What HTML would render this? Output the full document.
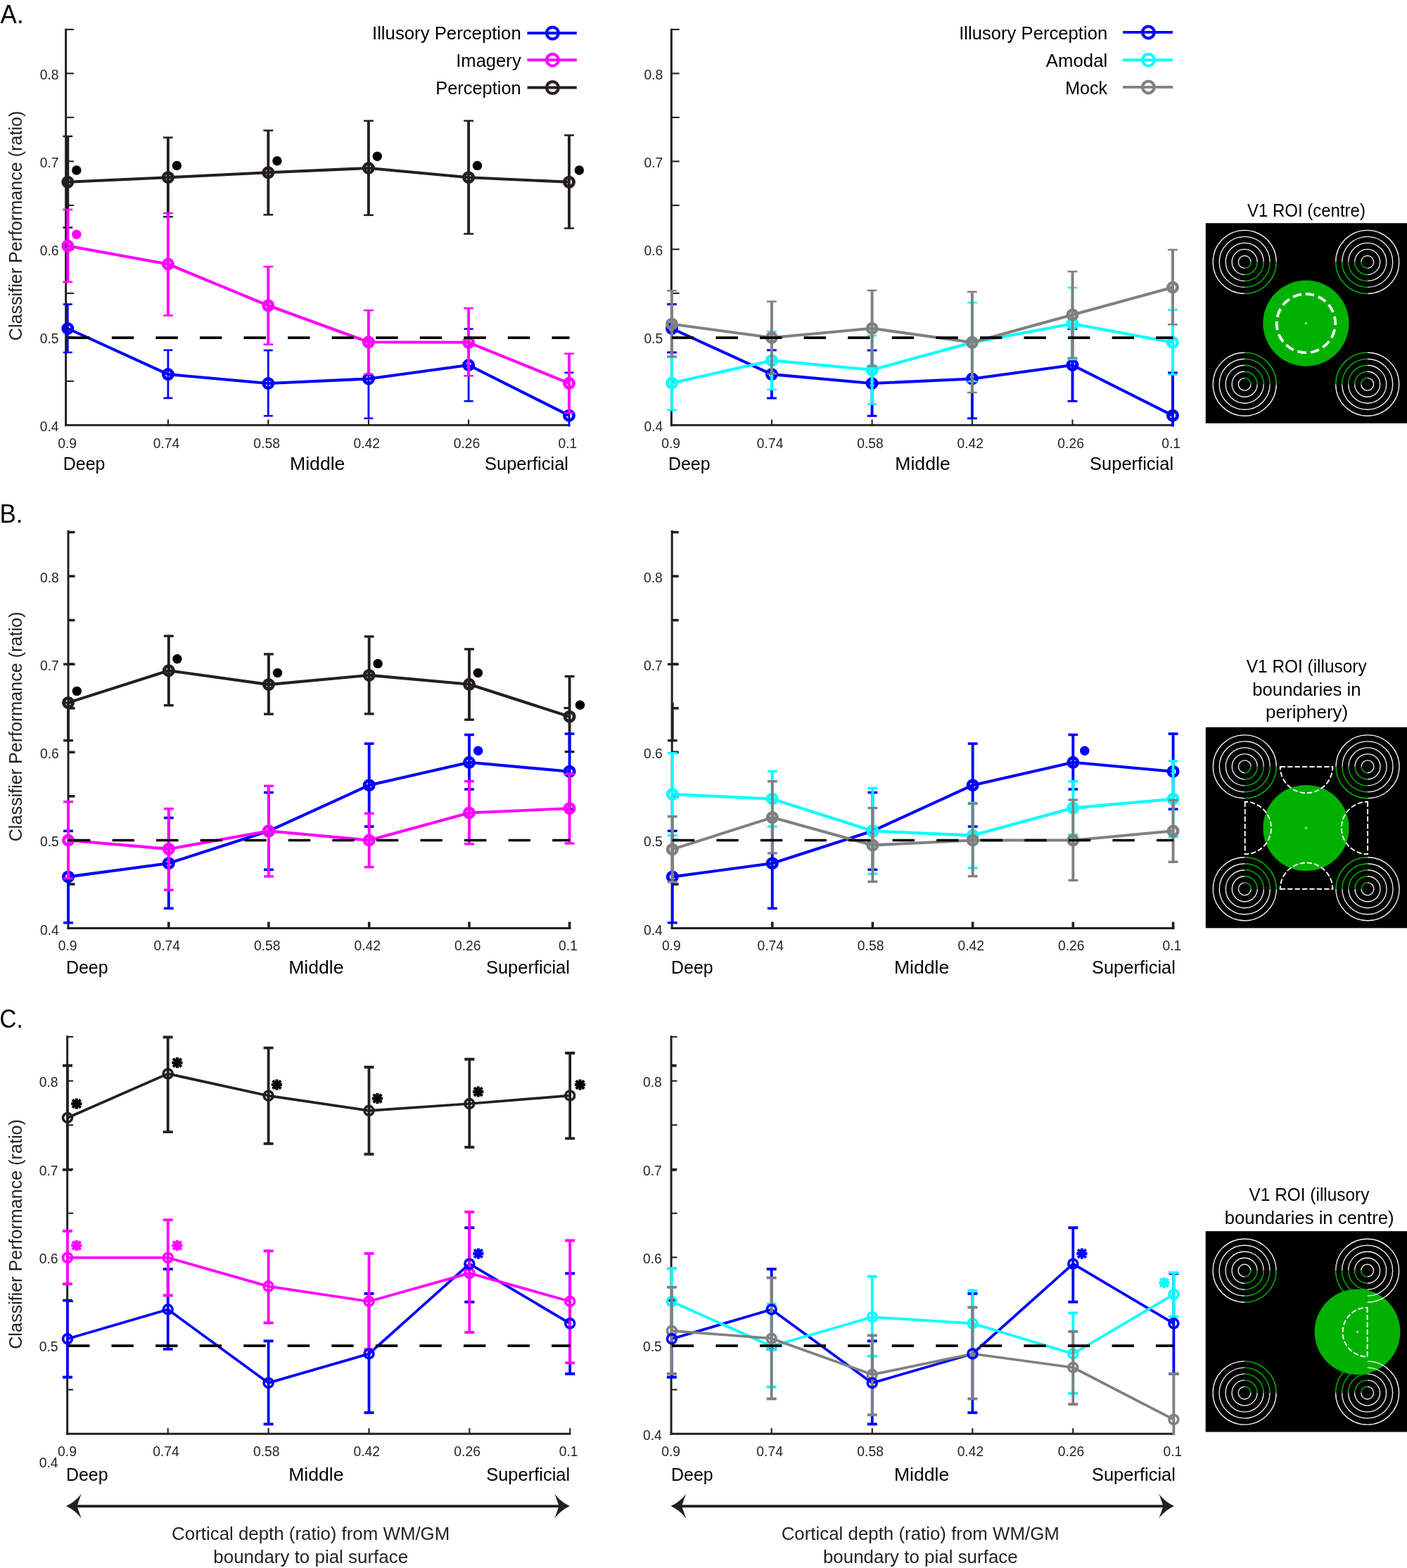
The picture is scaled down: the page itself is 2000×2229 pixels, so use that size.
<!DOCTYPE html>
<html lang="en"><head><meta charset="utf-8"><title>Figure</title>
<style>html,body{margin:0;padding:0;background:#fff;overflow:hidden}svg{display:block}text{font-family:'Liberation Sans', Arial, sans-serif}</style>
</head><body>
<svg width="2000" height="2229" viewBox="0 0 2000 2229">
<rect width="2000" height="2229" fill="#fff"/>
<!-- panel AL -->
<g id="panelAL">
<clipPath id="clipAL"><rect x="81.65" y="40.7" width="760" height="565.7"/></clipPath>
<line x1="93.65" y1="40.7" x2="93.65" y2="605.9" stroke="#231f20" stroke-width="3" />
<line x1="92.15" y1="604.4" x2="810.2" y2="604.4" stroke="#231f20" stroke-width="2.85" />
<line x1="93.65" y1="541.9" x2="104.95" y2="541.9" stroke="#231f20" stroke-width="2.1" />
<line x1="93.65" y1="479.4" x2="104.95" y2="479.4" stroke="#231f20" stroke-width="2.1" />
<line x1="93.65" y1="416.9" x2="104.95" y2="416.9" stroke="#231f20" stroke-width="2.1" />
<line x1="93.65" y1="354.4" x2="104.95" y2="354.4" stroke="#231f20" stroke-width="2.1" />
<line x1="93.65" y1="291.9" x2="104.95" y2="291.9" stroke="#231f20" stroke-width="2.1" />
<line x1="93.65" y1="229.4" x2="104.95" y2="229.4" stroke="#231f20" stroke-width="2.1" />
<line x1="93.65" y1="166.9" x2="104.95" y2="166.9" stroke="#231f20" stroke-width="2.1" />
<line x1="93.65" y1="104.4" x2="104.95" y2="104.4" stroke="#231f20" stroke-width="2.1" />
<line x1="93.65" y1="41.9" x2="104.95" y2="41.9" stroke="#231f20" stroke-width="2.1" />
<line x1="238.9" y1="604.4" x2="238.9" y2="596.4" stroke="#231f20" stroke-width="2.1" />
<line x1="381.3" y1="604.4" x2="381.3" y2="596.4" stroke="#231f20" stroke-width="2.1" />
<line x1="523.9" y1="604.4" x2="523.9" y2="596.4" stroke="#231f20" stroke-width="2.1" />
<line x1="666.1" y1="604.4" x2="666.1" y2="596.4" stroke="#231f20" stroke-width="2.1" />
<line x1="809" y1="604.4" x2="809" y2="596.4" stroke="#231f20" stroke-width="2.1" />
<g clip-path="url(#clipAL)">
<line x1="96.3" y1="193.7" x2="96.3" y2="323.6" stroke="#231f20" stroke-width="3.9" />
<line x1="89.4" y1="193.7" x2="103.2" y2="193.7" stroke="#231f20" stroke-width="2.5" />
<line x1="89.4" y1="323.6" x2="103.2" y2="323.6" stroke="#231f20" stroke-width="2.5" />
<line x1="238.9" y1="195.6" x2="238.9" y2="308.2" stroke="#231f20" stroke-width="3.9" />
<line x1="232" y1="195.6" x2="245.8" y2="195.6" stroke="#231f20" stroke-width="2.5" />
<line x1="232" y1="308.2" x2="245.8" y2="308.2" stroke="#231f20" stroke-width="2.5" />
<line x1="381.3" y1="185.6" x2="381.3" y2="305.3" stroke="#231f20" stroke-width="3.9" />
<line x1="374.4" y1="185.6" x2="388.2" y2="185.6" stroke="#231f20" stroke-width="2.5" />
<line x1="374.4" y1="305.3" x2="388.2" y2="305.3" stroke="#231f20" stroke-width="2.5" />
<line x1="523.9" y1="171.7" x2="523.9" y2="305.8" stroke="#231f20" stroke-width="3.9" />
<line x1="517" y1="171.7" x2="530.8" y2="171.7" stroke="#231f20" stroke-width="2.5" />
<line x1="517" y1="305.8" x2="530.8" y2="305.8" stroke="#231f20" stroke-width="2.5" />
<line x1="666.1" y1="171.7" x2="666.1" y2="332.4" stroke="#231f20" stroke-width="3.9" />
<line x1="659.2" y1="171.7" x2="673" y2="171.7" stroke="#231f20" stroke-width="2.5" />
<line x1="659.2" y1="332.4" x2="673" y2="332.4" stroke="#231f20" stroke-width="2.5" />
<line x1="809" y1="192.3" x2="809" y2="324.5" stroke="#231f20" stroke-width="3.9" />
<line x1="802.1" y1="192.3" x2="815.9" y2="192.3" stroke="#231f20" stroke-width="2.5" />
<line x1="802.1" y1="324.5" x2="815.9" y2="324.5" stroke="#231f20" stroke-width="2.5" />
<polyline points="96.3,258.8 238.9,252.2 381.3,245.3 523.9,239 666.1,252.2 809,258.8" fill="none" stroke="#231f20" stroke-width="4.1" stroke-linejoin="round"/>
<circle cx="96.3" cy="258.8" r="6.5" fill="none" stroke="#231f20" stroke-width="5"/>
<circle cx="238.9" cy="252.2" r="6.5" fill="none" stroke="#231f20" stroke-width="5"/>
<circle cx="381.3" cy="245.3" r="6.5" fill="none" stroke="#231f20" stroke-width="5"/>
<circle cx="523.9" cy="239" r="6.5" fill="none" stroke="#231f20" stroke-width="5"/>
<circle cx="666.1" cy="252.2" r="6.5" fill="none" stroke="#231f20" stroke-width="5"/>
<circle cx="809" cy="258.8" r="6.5" fill="none" stroke="#231f20" stroke-width="5"/>
<line x1="96.3" y1="432.6" x2="96.3" y2="501" stroke="#0000ff" stroke-width="2.8" />
<line x1="89.8" y1="432.6" x2="102.8" y2="432.6" stroke="#0000ff" stroke-width="2.6" />
<line x1="89.8" y1="501" x2="102.8" y2="501" stroke="#0000ff" stroke-width="2.6" />
<line x1="238.9" y1="497.8" x2="238.9" y2="565.9" stroke="#0000ff" stroke-width="2.8" />
<line x1="232.4" y1="497.8" x2="245.4" y2="497.8" stroke="#0000ff" stroke-width="2.6" />
<line x1="232.4" y1="565.9" x2="245.4" y2="565.9" stroke="#0000ff" stroke-width="2.6" />
<line x1="381.3" y1="498" x2="381.3" y2="591.2" stroke="#0000ff" stroke-width="2.8" />
<line x1="374.8" y1="498" x2="387.8" y2="498" stroke="#0000ff" stroke-width="2.6" />
<line x1="374.8" y1="591.2" x2="387.8" y2="591.2" stroke="#0000ff" stroke-width="2.6" />
<line x1="523.9" y1="482.2" x2="523.9" y2="594.8" stroke="#0000ff" stroke-width="2.8" />
<line x1="517.4" y1="482.2" x2="530.4" y2="482.2" stroke="#0000ff" stroke-width="2.6" />
<line x1="517.4" y1="594.8" x2="530.4" y2="594.8" stroke="#0000ff" stroke-width="2.6" />
<line x1="666.1" y1="467.6" x2="666.1" y2="570.3" stroke="#0000ff" stroke-width="2.8" />
<line x1="659.6" y1="467.6" x2="672.6" y2="467.6" stroke="#0000ff" stroke-width="2.6" />
<line x1="659.6" y1="570.3" x2="672.6" y2="570.3" stroke="#0000ff" stroke-width="2.6" />
<line x1="809" y1="529.7" x2="809" y2="640" stroke="#0000ff" stroke-width="2.8" />
<line x1="802.5" y1="529.7" x2="815.5" y2="529.7" stroke="#0000ff" stroke-width="2.6" />
<line x1="802.5" y1="640" x2="815.5" y2="640" stroke="#0000ff" stroke-width="2.6" />
<polyline points="96.3,467 238.9,532.1 381.3,545 523.9,538.5 666.1,519 809,590.7" fill="none" stroke="#0000ff" stroke-width="4.1" stroke-linejoin="round"/>
<circle cx="96.3" cy="467" r="6.5" fill="none" stroke="#0000ff" stroke-width="5"/>
<circle cx="238.9" cy="532.1" r="6.5" fill="none" stroke="#0000ff" stroke-width="5"/>
<circle cx="381.3" cy="545" r="6.5" fill="none" stroke="#0000ff" stroke-width="5"/>
<circle cx="523.9" cy="538.5" r="6.5" fill="none" stroke="#0000ff" stroke-width="5"/>
<circle cx="666.1" cy="519" r="6.5" fill="none" stroke="#0000ff" stroke-width="5"/>
<circle cx="809" cy="590.7" r="6.5" fill="none" stroke="#0000ff" stroke-width="5"/>
<line x1="96.3" y1="298" x2="96.3" y2="400.8" stroke="#ff00ff" stroke-width="3.9" />
<line x1="89.4" y1="298" x2="103.2" y2="298" stroke="#ff00ff" stroke-width="2.5" />
<line x1="89.4" y1="400.8" x2="103.2" y2="400.8" stroke="#ff00ff" stroke-width="2.5" />
<line x1="238.9" y1="303" x2="238.9" y2="448.4" stroke="#ff00ff" stroke-width="3.9" />
<line x1="232" y1="303" x2="245.8" y2="303" stroke="#ff00ff" stroke-width="2.5" />
<line x1="232" y1="448.4" x2="245.8" y2="448.4" stroke="#ff00ff" stroke-width="2.5" />
<line x1="381.3" y1="379.1" x2="381.3" y2="489.6" stroke="#ff00ff" stroke-width="3.9" />
<line x1="374.4" y1="379.1" x2="388.2" y2="379.1" stroke="#ff00ff" stroke-width="2.5" />
<line x1="374.4" y1="489.6" x2="388.2" y2="489.6" stroke="#ff00ff" stroke-width="2.5" />
<line x1="523.9" y1="441.2" x2="523.9" y2="532.1" stroke="#ff00ff" stroke-width="3.9" />
<line x1="517" y1="441.2" x2="530.8" y2="441.2" stroke="#ff00ff" stroke-width="2.5" />
<line x1="517" y1="532.1" x2="530.8" y2="532.1" stroke="#ff00ff" stroke-width="2.5" />
<line x1="666.1" y1="438.2" x2="666.1" y2="534.3" stroke="#ff00ff" stroke-width="3.9" />
<line x1="659.2" y1="438.2" x2="673" y2="438.2" stroke="#ff00ff" stroke-width="2.5" />
<line x1="659.2" y1="534.3" x2="673" y2="534.3" stroke="#ff00ff" stroke-width="2.5" />
<line x1="809" y1="502.7" x2="809" y2="587.1" stroke="#ff00ff" stroke-width="3.9" />
<line x1="802.1" y1="502.7" x2="815.9" y2="502.7" stroke="#ff00ff" stroke-width="2.5" />
<line x1="802.1" y1="587.1" x2="815.9" y2="587.1" stroke="#ff00ff" stroke-width="2.5" />
<polyline points="96.3,349.6 238.9,375.5 381.3,434.3 523.9,486.3 666.1,486.8 809,544.8" fill="none" stroke="#ff00ff" stroke-width="4.1" stroke-linejoin="round"/>
<circle cx="96.3" cy="349.6" r="6.5" fill="none" stroke="#ff00ff" stroke-width="5"/>
<circle cx="238.9" cy="375.5" r="6.5" fill="none" stroke="#ff00ff" stroke-width="5"/>
<circle cx="381.3" cy="434.3" r="6.5" fill="none" stroke="#ff00ff" stroke-width="5"/>
<circle cx="523.9" cy="486.3" r="6.5" fill="none" stroke="#ff00ff" stroke-width="5"/>
<circle cx="666.1" cy="486.8" r="6.5" fill="none" stroke="#ff00ff" stroke-width="5"/>
<circle cx="809" cy="544.8" r="6.5" fill="none" stroke="#ff00ff" stroke-width="5"/>
</g>
<line x1="96.3" y1="480.2" x2="809.5" y2="480.2" stroke="#000" stroke-width="3.7" stroke-dasharray="31.4 31.16"/>
<circle cx="108.8" cy="242" r="6.7" fill="#000"/>
<circle cx="251.4" cy="235.4" r="6.7" fill="#000"/>
<circle cx="393.9" cy="228.8" r="6.7" fill="#000"/>
<circle cx="536.3" cy="222.2" r="6.7" fill="#000"/>
<circle cx="678.5" cy="235.4" r="6.7" fill="#000"/>
<circle cx="823.4" cy="242" r="6.7" fill="#000"/>
<circle cx="108.8" cy="333.2" r="6.7" fill="#ff00ff"/>
<text x="83.6" y="613.2" font-size="19.3" fill="#231f20" text-anchor="end" >0.4</text>
<text x="83.6" y="488.2" font-size="19.3" fill="#231f20" text-anchor="end" >0.5</text>
<text x="83.6" y="363.2" font-size="19.3" fill="#231f20" text-anchor="end" >0.6</text>
<text x="83.6" y="238.2" font-size="19.3" fill="#231f20" text-anchor="end" >0.7</text>
<text x="83.6" y="113.2" font-size="19.3" fill="#231f20" text-anchor="end" >0.8</text>
<text x="95.7" y="636.5" font-size="19.3" fill="#231f20" text-anchor="middle" >0.9</text>
<text x="236.5" y="636.5" font-size="19.3" fill="#231f20" text-anchor="middle" >0.74</text>
<text x="379.1" y="636.5" font-size="19.3" fill="#231f20" text-anchor="middle" >0.58</text>
<text x="521.2" y="636.5" font-size="19.3" fill="#231f20" text-anchor="middle" >0.42</text>
<text x="663.5" y="636.5" font-size="19.3" fill="#231f20" text-anchor="middle" >0.26</text>
<text x="806.9" y="636.5" font-size="19.3" fill="#231f20" text-anchor="middle" >0.1</text>
<text x="89.8" y="668" font-size="25.6" fill="#000" textLength="59.6" lengthAdjust="spacingAndGlyphs" >Deep</text>
<text x="412" y="668" font-size="25.6" fill="#000" textLength="78.4" lengthAdjust="spacingAndGlyphs" >Middle</text>
<text x="808" y="668" font-size="25.6" fill="#000" text-anchor="end" textLength="119" lengthAdjust="spacingAndGlyphs" >Superficial</text>
</g>
<!-- panel AR -->
<g id="panelAR">
<clipPath id="clipAR"><rect x="942.4" y="40.7" width="760" height="565.7"/></clipPath>
<line x1="954.4" y1="40.7" x2="954.4" y2="605.9" stroke="#231f20" stroke-width="3" />
<line x1="952.9" y1="604.4" x2="1668.2" y2="604.4" stroke="#231f20" stroke-width="2.85" />
<line x1="954.4" y1="541.9" x2="965.7" y2="541.9" stroke="#231f20" stroke-width="2.1" />
<line x1="954.4" y1="479.4" x2="965.7" y2="479.4" stroke="#231f20" stroke-width="2.1" />
<line x1="954.4" y1="416.9" x2="965.7" y2="416.9" stroke="#231f20" stroke-width="2.1" />
<line x1="954.4" y1="354.4" x2="965.7" y2="354.4" stroke="#231f20" stroke-width="2.1" />
<line x1="954.4" y1="291.9" x2="965.7" y2="291.9" stroke="#231f20" stroke-width="2.1" />
<line x1="954.4" y1="229.4" x2="965.7" y2="229.4" stroke="#231f20" stroke-width="2.1" />
<line x1="954.4" y1="166.9" x2="965.7" y2="166.9" stroke="#231f20" stroke-width="2.1" />
<line x1="954.4" y1="104.4" x2="965.7" y2="104.4" stroke="#231f20" stroke-width="2.1" />
<line x1="954.4" y1="41.9" x2="965.7" y2="41.9" stroke="#231f20" stroke-width="2.1" />
<line x1="1097" y1="604.4" x2="1097" y2="596.4" stroke="#231f20" stroke-width="2.1" />
<line x1="1239.6" y1="604.4" x2="1239.6" y2="596.4" stroke="#231f20" stroke-width="2.1" />
<line x1="1381.9" y1="604.4" x2="1381.9" y2="596.4" stroke="#231f20" stroke-width="2.1" />
<line x1="1524.5" y1="604.4" x2="1524.5" y2="596.4" stroke="#231f20" stroke-width="2.1" />
<line x1="1667" y1="604.4" x2="1667" y2="596.4" stroke="#231f20" stroke-width="2.1" />
<g clip-path="url(#clipAR)">
<line x1="955" y1="432.6" x2="955" y2="501" stroke="#0000ff" stroke-width="3.9" />
<line x1="948.1" y1="432.6" x2="961.9" y2="432.6" stroke="#0000ff" stroke-width="3" />
<line x1="948.1" y1="501" x2="961.9" y2="501" stroke="#0000ff" stroke-width="3" />
<line x1="1097" y1="497.8" x2="1097" y2="565.9" stroke="#0000ff" stroke-width="3.9" />
<line x1="1090.1" y1="497.8" x2="1103.9" y2="497.8" stroke="#0000ff" stroke-width="3" />
<line x1="1090.1" y1="565.9" x2="1103.9" y2="565.9" stroke="#0000ff" stroke-width="3" />
<line x1="1239.6" y1="498" x2="1239.6" y2="591.2" stroke="#0000ff" stroke-width="3.9" />
<line x1="1232.7" y1="498" x2="1246.5" y2="498" stroke="#0000ff" stroke-width="3" />
<line x1="1232.7" y1="591.2" x2="1246.5" y2="591.2" stroke="#0000ff" stroke-width="3" />
<line x1="1381.9" y1="482.2" x2="1381.9" y2="594.8" stroke="#0000ff" stroke-width="3.9" />
<line x1="1375" y1="482.2" x2="1388.8" y2="482.2" stroke="#0000ff" stroke-width="3" />
<line x1="1375" y1="594.8" x2="1388.8" y2="594.8" stroke="#0000ff" stroke-width="3" />
<line x1="1524.5" y1="467.6" x2="1524.5" y2="570.3" stroke="#0000ff" stroke-width="3.9" />
<line x1="1517.6" y1="467.6" x2="1531.4" y2="467.6" stroke="#0000ff" stroke-width="3" />
<line x1="1517.6" y1="570.3" x2="1531.4" y2="570.3" stroke="#0000ff" stroke-width="3" />
<line x1="1667" y1="529.7" x2="1667" y2="640" stroke="#0000ff" stroke-width="3.9" />
<line x1="1660.1" y1="529.7" x2="1673.9" y2="529.7" stroke="#0000ff" stroke-width="3" />
<line x1="1660.1" y1="640" x2="1673.9" y2="640" stroke="#0000ff" stroke-width="3" />
<polyline points="955,467 1097,532.1 1239.6,545 1381.9,538.5 1524.5,519 1667,590.7" fill="none" stroke="#0000ff" stroke-width="4.1" stroke-linejoin="round"/>
<circle cx="955" cy="467" r="6.5" fill="none" stroke="#0000ff" stroke-width="5"/>
<circle cx="1097" cy="532.1" r="6.5" fill="none" stroke="#0000ff" stroke-width="5"/>
<circle cx="1239.6" cy="545" r="6.5" fill="none" stroke="#0000ff" stroke-width="5"/>
<circle cx="1381.9" cy="538.5" r="6.5" fill="none" stroke="#0000ff" stroke-width="5"/>
<circle cx="1524.5" cy="519" r="6.5" fill="none" stroke="#0000ff" stroke-width="5"/>
<circle cx="1667" cy="590.7" r="6.5" fill="none" stroke="#0000ff" stroke-width="5"/>
<line x1="955" y1="506" x2="955" y2="583" stroke="#00ffff" stroke-width="3.9" />
<line x1="948.1" y1="506" x2="961.9" y2="506" stroke="#00ffff" stroke-width="2.5" />
<line x1="948.1" y1="583" x2="961.9" y2="583" stroke="#00ffff" stroke-width="2.5" />
<line x1="1097" y1="471.2" x2="1097" y2="553.8" stroke="#00ffff" stroke-width="3.9" />
<line x1="1090.1" y1="471.2" x2="1103.9" y2="471.2" stroke="#00ffff" stroke-width="2.5" />
<line x1="1090.1" y1="553.8" x2="1103.9" y2="553.8" stroke="#00ffff" stroke-width="2.5" />
<line x1="1239.6" y1="477.2" x2="1239.6" y2="574.2" stroke="#00ffff" stroke-width="3.9" />
<line x1="1232.7" y1="477.2" x2="1246.5" y2="477.2" stroke="#00ffff" stroke-width="2.5" />
<line x1="1232.7" y1="574.2" x2="1246.5" y2="574.2" stroke="#00ffff" stroke-width="2.5" />
<line x1="1381.9" y1="430.2" x2="1381.9" y2="542.3" stroke="#00ffff" stroke-width="3.9" />
<line x1="1375" y1="430.2" x2="1388.8" y2="430.2" stroke="#00ffff" stroke-width="2.5" />
<line x1="1375" y1="542.3" x2="1388.8" y2="542.3" stroke="#00ffff" stroke-width="2.5" />
<line x1="1524.5" y1="409" x2="1524.5" y2="511" stroke="#00ffff" stroke-width="3.9" />
<line x1="1517.6" y1="409" x2="1531.4" y2="409" stroke="#00ffff" stroke-width="2.5" />
<line x1="1517.6" y1="511" x2="1531.4" y2="511" stroke="#00ffff" stroke-width="2.5" />
<line x1="1667" y1="440.4" x2="1667" y2="532.4" stroke="#00ffff" stroke-width="3.9" />
<line x1="1660.1" y1="440.4" x2="1673.9" y2="440.4" stroke="#00ffff" stroke-width="2.5" />
<line x1="1660.1" y1="532.4" x2="1673.9" y2="532.4" stroke="#00ffff" stroke-width="2.5" />
<polyline points="955,544.5 1097,512.4 1239.6,525.8 1381.9,486.8 1524.5,460.2 1667,486.8" fill="none" stroke="#00ffff" stroke-width="4.1" stroke-linejoin="round"/>
<circle cx="955" cy="544.5" r="6.5" fill="none" stroke="#00ffff" stroke-width="5"/>
<circle cx="1097" cy="512.4" r="6.5" fill="none" stroke="#00ffff" stroke-width="5"/>
<circle cx="1239.6" cy="525.8" r="6.5" fill="none" stroke="#00ffff" stroke-width="5"/>
<circle cx="1381.9" cy="486.8" r="6.5" fill="none" stroke="#00ffff" stroke-width="5"/>
<circle cx="1524.5" cy="460.2" r="6.5" fill="none" stroke="#00ffff" stroke-width="5"/>
<circle cx="1667" cy="486.8" r="6.5" fill="none" stroke="#00ffff" stroke-width="5"/>
<line x1="955" y1="413.2" x2="955" y2="507.4" stroke="#808080" stroke-width="3.9" />
<line x1="948.1" y1="413.2" x2="961.9" y2="413.2" stroke="#808080" stroke-width="2.5" />
<line x1="948.1" y1="507.4" x2="961.9" y2="507.4" stroke="#808080" stroke-width="2.5" />
<line x1="1097" y1="428.6" x2="1097" y2="531.6" stroke="#808080" stroke-width="3.9" />
<line x1="1090.1" y1="428.6" x2="1103.9" y2="428.6" stroke="#808080" stroke-width="2.5" />
<line x1="1090.1" y1="531.6" x2="1103.9" y2="531.6" stroke="#808080" stroke-width="2.5" />
<line x1="1239.6" y1="412.9" x2="1239.6" y2="520.6" stroke="#808080" stroke-width="3.9" />
<line x1="1232.7" y1="412.9" x2="1246.5" y2="412.9" stroke="#808080" stroke-width="2.5" />
<line x1="1232.7" y1="520.6" x2="1246.5" y2="520.6" stroke="#808080" stroke-width="2.5" />
<line x1="1381.9" y1="414.8" x2="1381.9" y2="558" stroke="#808080" stroke-width="3.9" />
<line x1="1375" y1="414.8" x2="1388.8" y2="414.8" stroke="#808080" stroke-width="2.5" />
<line x1="1375" y1="558" x2="1388.8" y2="558" stroke="#808080" stroke-width="2.5" />
<line x1="1524.5" y1="386" x2="1524.5" y2="508.8" stroke="#808080" stroke-width="3.9" />
<line x1="1517.6" y1="386" x2="1531.4" y2="386" stroke="#808080" stroke-width="2.5" />
<line x1="1517.6" y1="508.8" x2="1531.4" y2="508.8" stroke="#808080" stroke-width="2.5" />
<line x1="1667" y1="355" x2="1667" y2="461.3" stroke="#808080" stroke-width="3.9" />
<line x1="1660.1" y1="355" x2="1673.9" y2="355" stroke="#808080" stroke-width="2.5" />
<line x1="1660.1" y1="461.3" x2="1673.9" y2="461.3" stroke="#808080" stroke-width="2.5" />
<polyline points="955,460.7 1097,480 1239.6,466.8 1381.9,486.8 1524.5,447.5 1667,408.5" fill="none" stroke="#808080" stroke-width="4.1" stroke-linejoin="round"/>
<circle cx="955" cy="460.7" r="6.5" fill="none" stroke="#808080" stroke-width="5"/>
<circle cx="1097" cy="480" r="6.5" fill="none" stroke="#808080" stroke-width="5"/>
<circle cx="1239.6" cy="466.8" r="6.5" fill="none" stroke="#808080" stroke-width="5"/>
<circle cx="1381.9" cy="486.8" r="6.5" fill="none" stroke="#808080" stroke-width="5"/>
<circle cx="1524.5" cy="447.5" r="6.5" fill="none" stroke="#808080" stroke-width="5"/>
<circle cx="1667" cy="408.5" r="6.5" fill="none" stroke="#808080" stroke-width="5"/>
</g>
<line x1="955" y1="480.2" x2="1667.5" y2="480.2" stroke="#000" stroke-width="3.7" stroke-dasharray="31.4 31.16"/>
<text x="942.3" y="613.2" font-size="19.3" fill="#231f20" text-anchor="end" >0.4</text>
<text x="942.3" y="488.2" font-size="19.3" fill="#231f20" text-anchor="end" >0.5</text>
<text x="942.3" y="363.2" font-size="19.3" fill="#231f20" text-anchor="end" >0.6</text>
<text x="942.3" y="238.2" font-size="19.3" fill="#231f20" text-anchor="end" >0.7</text>
<text x="942.3" y="113.2" font-size="19.3" fill="#231f20" text-anchor="end" >0.8</text>
<text x="953.7" y="636.5" font-size="19.3" fill="#231f20" text-anchor="middle" >0.9</text>
<text x="1094.6" y="636.5" font-size="19.3" fill="#231f20" text-anchor="middle" >0.74</text>
<text x="1237" y="636.5" font-size="19.3" fill="#231f20" text-anchor="middle" >0.58</text>
<text x="1379.3" y="636.5" font-size="19.3" fill="#231f20" text-anchor="middle" >0.42</text>
<text x="1522.1" y="636.5" font-size="19.3" fill="#231f20" text-anchor="middle" >0.26</text>
<text x="1664.7" y="636.5" font-size="19.3" fill="#231f20" text-anchor="middle" >0.1</text>
<text x="950" y="668" font-size="25.6" fill="#000" textLength="59.6" lengthAdjust="spacingAndGlyphs" >Deep</text>
<text x="1272.3" y="668" font-size="25.6" fill="#000" textLength="78.4" lengthAdjust="spacingAndGlyphs" >Middle</text>
<text x="1668.1" y="668" font-size="25.6" fill="#000" text-anchor="end" textLength="119" lengthAdjust="spacingAndGlyphs" >Superficial</text>
</g>
<!-- panel BL -->
<g id="panelBL">
<clipPath id="clipBL"><rect x="85" y="754.3" width="760" height="567.2"/></clipPath>
<line x1="97" y1="753.9" x2="97" y2="1321" stroke="#231f20" stroke-width="3" />
<line x1="95.5" y1="1319.5" x2="811.5" y2="1319.5" stroke="#231f20" stroke-width="2.85" />
<line x1="97" y1="1256.95" x2="106.5" y2="1256.95" stroke="#231f20" stroke-width="3.6" />
<line x1="97" y1="1194.4" x2="106.5" y2="1194.4" stroke="#231f20" stroke-width="3.6" />
<line x1="97" y1="1131.85" x2="106.5" y2="1131.85" stroke="#231f20" stroke-width="3.6" />
<line x1="97" y1="1069.3" x2="106.5" y2="1069.3" stroke="#231f20" stroke-width="3.6" />
<line x1="97" y1="1006.75" x2="106.5" y2="1006.75" stroke="#231f20" stroke-width="3.6" />
<line x1="97" y1="944.2" x2="106.5" y2="944.2" stroke="#231f20" stroke-width="3.6" />
<line x1="97" y1="881.65" x2="106.5" y2="881.65" stroke="#231f20" stroke-width="3.6" />
<line x1="97" y1="819.1" x2="106.5" y2="819.1" stroke="#231f20" stroke-width="3.6" />
<line x1="97" y1="756.55" x2="106.5" y2="756.55" stroke="#231f20" stroke-width="3.6" />
<line x1="239.8" y1="1319.5" x2="239.8" y2="1310.5" stroke="#231f20" stroke-width="3.6" />
<line x1="381.9" y1="1319.5" x2="381.9" y2="1310.5" stroke="#231f20" stroke-width="3.6" />
<line x1="524.7" y1="1319.5" x2="524.7" y2="1310.5" stroke="#231f20" stroke-width="3.6" />
<line x1="667" y1="1319.5" x2="667" y2="1310.5" stroke="#231f20" stroke-width="3.6" />
<line x1="809.6" y1="1319.5" x2="809.6" y2="1310.5" stroke="#231f20" stroke-width="3.6" />
<line x1="90.1" y1="944.2" x2="103.9" y2="944.2" stroke="#231f20" stroke-width="3.4" />
<line x1="801.5" y1="1006.5" x2="808.5" y2="1006.5" stroke="#231f20" stroke-width="3.2" />
<g clip-path="url(#clipBL)">
<line x1="97" y1="998.9" x2="97" y2="1052.7" stroke="#231f20" stroke-width="3.9" />
<line x1="90.1" y1="998.9" x2="103.9" y2="998.9" stroke="#231f20" stroke-width="3.4" />
<line x1="90.1" y1="1052.7" x2="103.9" y2="1052.7" stroke="#231f20" stroke-width="3.4" />
<line x1="239.8" y1="904.1" x2="239.8" y2="1002.7" stroke="#231f20" stroke-width="3.9" />
<line x1="232.9" y1="904.1" x2="246.7" y2="904.1" stroke="#231f20" stroke-width="3.4" />
<line x1="232.9" y1="1002.7" x2="246.7" y2="1002.7" stroke="#231f20" stroke-width="3.4" />
<line x1="381.9" y1="929.9" x2="381.9" y2="1015.1" stroke="#231f20" stroke-width="3.9" />
<line x1="375" y1="929.9" x2="388.8" y2="929.9" stroke="#231f20" stroke-width="3.4" />
<line x1="375" y1="1015.1" x2="388.8" y2="1015.1" stroke="#231f20" stroke-width="3.4" />
<line x1="524.7" y1="904.9" x2="524.7" y2="1014.8" stroke="#231f20" stroke-width="3.9" />
<line x1="517.8" y1="904.9" x2="531.6" y2="904.9" stroke="#231f20" stroke-width="3.4" />
<line x1="517.8" y1="1014.8" x2="531.6" y2="1014.8" stroke="#231f20" stroke-width="3.4" />
<line x1="667" y1="922.8" x2="667" y2="1023.1" stroke="#231f20" stroke-width="3.9" />
<line x1="660.1" y1="922.8" x2="673.9" y2="922.8" stroke="#231f20" stroke-width="3.4" />
<line x1="660.1" y1="1023.1" x2="673.9" y2="1023.1" stroke="#231f20" stroke-width="3.4" />
<line x1="809.6" y1="961.5" x2="809.6" y2="1068.7" stroke="#231f20" stroke-width="3.9" />
<line x1="802.7" y1="961.5" x2="816.5" y2="961.5" stroke="#231f20" stroke-width="3.4" />
<line x1="802.7" y1="1068.7" x2="816.5" y2="1068.7" stroke="#231f20" stroke-width="3.4" />
<polyline points="97,998.9 239.8,953.3 381.9,973.1 524.7,959.9 667,972.8 809.6,1018.7" fill="none" stroke="#231f20" stroke-width="4.1" stroke-linejoin="round"/>
<circle cx="97" cy="998.9" r="6.5" fill="none" stroke="#231f20" stroke-width="5"/>
<circle cx="239.8" cy="953.3" r="6.5" fill="none" stroke="#231f20" stroke-width="5"/>
<circle cx="381.9" cy="973.1" r="6.5" fill="none" stroke="#231f20" stroke-width="5"/>
<circle cx="524.7" cy="959.9" r="6.5" fill="none" stroke="#231f20" stroke-width="5"/>
<circle cx="667" cy="972.8" r="6.5" fill="none" stroke="#231f20" stroke-width="5"/>
<circle cx="809.6" cy="1018.7" r="6.5" fill="none" stroke="#231f20" stroke-width="5"/>
<line x1="97" y1="1181.3" x2="97" y2="1311.8" stroke="#0000ff" stroke-width="3.9" />
<line x1="90.1" y1="1181.3" x2="103.9" y2="1181.3" stroke="#0000ff" stroke-width="3.6" />
<line x1="90.1" y1="1311.8" x2="103.9" y2="1311.8" stroke="#0000ff" stroke-width="3.6" />
<line x1="239.8" y1="1162.6" x2="239.8" y2="1291.2" stroke="#0000ff" stroke-width="3.9" />
<line x1="232.9" y1="1162.6" x2="246.7" y2="1162.6" stroke="#0000ff" stroke-width="3.6" />
<line x1="232.9" y1="1291.2" x2="246.7" y2="1291.2" stroke="#0000ff" stroke-width="3.6" />
<line x1="381.9" y1="1126.6" x2="381.9" y2="1236.3" stroke="#0000ff" stroke-width="3.9" />
<line x1="375" y1="1126.6" x2="388.8" y2="1126.6" stroke="#0000ff" stroke-width="3.6" />
<line x1="375" y1="1236.3" x2="388.8" y2="1236.3" stroke="#0000ff" stroke-width="3.6" />
<line x1="524.7" y1="1057.1" x2="524.7" y2="1175" stroke="#0000ff" stroke-width="3.9" />
<line x1="517.8" y1="1057.1" x2="531.6" y2="1057.1" stroke="#0000ff" stroke-width="3.6" />
<line x1="517.8" y1="1175" x2="531.6" y2="1175" stroke="#0000ff" stroke-width="3.6" />
<line x1="667" y1="1044.5" x2="667" y2="1122" stroke="#0000ff" stroke-width="3.9" />
<line x1="660.1" y1="1044.5" x2="673.9" y2="1044.5" stroke="#0000ff" stroke-width="3.6" />
<line x1="660.1" y1="1122" x2="673.9" y2="1122" stroke="#0000ff" stroke-width="3.6" />
<line x1="809.6" y1="1043.1" x2="809.6" y2="1150.3" stroke="#0000ff" stroke-width="3.9" />
<line x1="802.7" y1="1043.1" x2="816.5" y2="1043.1" stroke="#0000ff" stroke-width="3.6" />
<line x1="802.7" y1="1150.3" x2="816.5" y2="1150.3" stroke="#0000ff" stroke-width="3.6" />
<polyline points="97,1246.4 239.8,1227.2 381.9,1181.3 524.7,1116.2 667,1083.8 809.6,1096.7" fill="none" stroke="#0000ff" stroke-width="4.1" stroke-linejoin="round"/>
<circle cx="97" cy="1246.4" r="6.5" fill="none" stroke="#0000ff" stroke-width="5"/>
<circle cx="239.8" cy="1227.2" r="6.5" fill="none" stroke="#0000ff" stroke-width="5"/>
<circle cx="381.9" cy="1181.3" r="6.5" fill="none" stroke="#0000ff" stroke-width="5"/>
<circle cx="524.7" cy="1116.2" r="6.5" fill="none" stroke="#0000ff" stroke-width="5"/>
<circle cx="667" cy="1083.8" r="6.5" fill="none" stroke="#0000ff" stroke-width="5"/>
<circle cx="809.6" cy="1096.7" r="6.5" fill="none" stroke="#0000ff" stroke-width="5"/>
<line x1="97" y1="1139.8" x2="97" y2="1248.6" stroke="#ff00ff" stroke-width="3.9" />
<line x1="90.1" y1="1139.8" x2="103.9" y2="1139.8" stroke="#ff00ff" stroke-width="3.4" />
<line x1="90.1" y1="1248.6" x2="103.9" y2="1248.6" stroke="#ff00ff" stroke-width="3.4" />
<line x1="239.8" y1="1149.7" x2="239.8" y2="1265.1" stroke="#ff00ff" stroke-width="3.9" />
<line x1="232.9" y1="1149.7" x2="246.7" y2="1149.7" stroke="#ff00ff" stroke-width="3.4" />
<line x1="232.9" y1="1265.1" x2="246.7" y2="1265.1" stroke="#ff00ff" stroke-width="3.4" />
<line x1="381.9" y1="1117.3" x2="381.9" y2="1245.9" stroke="#ff00ff" stroke-width="3.9" />
<line x1="375" y1="1117.3" x2="388.8" y2="1117.3" stroke="#ff00ff" stroke-width="3.4" />
<line x1="375" y1="1245.9" x2="388.8" y2="1245.9" stroke="#ff00ff" stroke-width="3.4" />
<line x1="524.7" y1="1156.3" x2="524.7" y2="1232.7" stroke="#ff00ff" stroke-width="3.9" />
<line x1="517.8" y1="1156.3" x2="531.6" y2="1156.3" stroke="#ff00ff" stroke-width="3.4" />
<line x1="517.8" y1="1232.7" x2="531.6" y2="1232.7" stroke="#ff00ff" stroke-width="3.4" />
<line x1="667" y1="1110.7" x2="667" y2="1199.7" stroke="#ff00ff" stroke-width="3.9" />
<line x1="660.1" y1="1110.7" x2="673.9" y2="1110.7" stroke="#ff00ff" stroke-width="3.4" />
<line x1="660.1" y1="1199.7" x2="673.9" y2="1199.7" stroke="#ff00ff" stroke-width="3.4" />
<line x1="809.6" y1="1100.3" x2="809.6" y2="1198.9" stroke="#ff00ff" stroke-width="3.9" />
<line x1="802.7" y1="1100.3" x2="816.5" y2="1100.3" stroke="#ff00ff" stroke-width="3.4" />
<line x1="802.7" y1="1198.9" x2="816.5" y2="1198.9" stroke="#ff00ff" stroke-width="3.4" />
<polyline points="97,1194.5 239.8,1206.9 381.9,1181.3 524.7,1194.5 667,1155.5 809.6,1149.2" fill="none" stroke="#ff00ff" stroke-width="4.1" stroke-linejoin="round"/>
<circle cx="97" cy="1194.5" r="6.5" fill="none" stroke="#ff00ff" stroke-width="5"/>
<circle cx="239.8" cy="1206.9" r="6.5" fill="none" stroke="#ff00ff" stroke-width="5"/>
<circle cx="381.9" cy="1181.3" r="6.5" fill="none" stroke="#ff00ff" stroke-width="5"/>
<circle cx="524.7" cy="1194.5" r="6.5" fill="none" stroke="#ff00ff" stroke-width="5"/>
<circle cx="667" cy="1155.5" r="6.5" fill="none" stroke="#ff00ff" stroke-width="5"/>
<circle cx="809.6" cy="1149.2" r="6.5" fill="none" stroke="#ff00ff" stroke-width="5"/>
</g>
<line x1="97" y1="1194.5" x2="810.1" y2="1194.5" stroke="#000" stroke-width="3.7" stroke-dasharray="31.4 31.16"/>
<circle cx="109.3" cy="982.4" r="6.7" fill="#000"/>
<circle cx="251.9" cy="936.8" r="6.7" fill="#000"/>
<circle cx="394.5" cy="956.6" r="6.7" fill="#000"/>
<circle cx="537.1" cy="943.4" r="6.7" fill="#000"/>
<circle cx="679.4" cy="956.6" r="6.7" fill="#000"/>
<circle cx="824.5" cy="1002.2" r="6.7" fill="#000"/>
<circle cx="679.7" cy="1067.3" r="6.7" fill="#0000ff"/>
<text x="83.8" y="1328.5" font-size="19.3" fill="#231f20" text-anchor="end" >0.4</text>
<text x="83.8" y="1203.4" font-size="19.3" fill="#231f20" text-anchor="end" >0.5</text>
<text x="83.8" y="1078.3" font-size="19.3" fill="#231f20" text-anchor="end" >0.6</text>
<text x="83.8" y="953.2" font-size="19.3" fill="#231f20" text-anchor="end" >0.7</text>
<text x="83.8" y="828.1" font-size="19.3" fill="#231f20" text-anchor="end" >0.8</text>
<text x="96.2" y="1350.8" font-size="19.3" fill="#231f20" text-anchor="middle" >0.9</text>
<text x="237.2" y="1350.8" font-size="19.3" fill="#231f20" text-anchor="middle" >0.74</text>
<text x="379.7" y="1350.8" font-size="19.3" fill="#231f20" text-anchor="middle" >0.58</text>
<text x="522.3" y="1350.8" font-size="19.3" fill="#231f20" text-anchor="middle" >0.42</text>
<text x="664.7" y="1350.8" font-size="19.3" fill="#231f20" text-anchor="middle" >0.26</text>
<text x="807.5" y="1350.8" font-size="19.3" fill="#231f20" text-anchor="middle" >0.1</text>
<text x="94" y="1384" font-size="25.6" fill="#000" textLength="59.6" lengthAdjust="spacingAndGlyphs" >Deep</text>
<text x="410.2" y="1384" font-size="25.6" fill="#000" textLength="78.4" lengthAdjust="spacingAndGlyphs" >Middle</text>
<text x="809.9" y="1384" font-size="25.6" fill="#000" text-anchor="end" textLength="119" lengthAdjust="spacingAndGlyphs" >Superficial</text>
</g>
<!-- panel BR -->
<g id="panelBR">
<clipPath id="clipBR"><rect x="943.2" y="754.3" width="760" height="567.2"/></clipPath>
<line x1="955.2" y1="753.9" x2="955.2" y2="1321" stroke="#231f20" stroke-width="3" />
<line x1="953.7" y1="1319.5" x2="1669.5" y2="1319.5" stroke="#231f20" stroke-width="2.85" />
<line x1="955.2" y1="1256.95" x2="964.7" y2="1256.95" stroke="#231f20" stroke-width="3.6" />
<line x1="955.2" y1="1194.4" x2="964.7" y2="1194.4" stroke="#231f20" stroke-width="3.6" />
<line x1="955.2" y1="1131.85" x2="964.7" y2="1131.85" stroke="#231f20" stroke-width="3.6" />
<line x1="955.2" y1="1069.3" x2="964.7" y2="1069.3" stroke="#231f20" stroke-width="3.6" />
<line x1="955.2" y1="1006.75" x2="964.7" y2="1006.75" stroke="#231f20" stroke-width="3.6" />
<line x1="955.2" y1="944.2" x2="964.7" y2="944.2" stroke="#231f20" stroke-width="3.6" />
<line x1="955.2" y1="881.65" x2="964.7" y2="881.65" stroke="#231f20" stroke-width="3.6" />
<line x1="955.2" y1="819.1" x2="964.7" y2="819.1" stroke="#231f20" stroke-width="3.6" />
<line x1="955.2" y1="756.55" x2="964.7" y2="756.55" stroke="#231f20" stroke-width="3.6" />
<line x1="1097.8" y1="1319.5" x2="1097.8" y2="1310.5" stroke="#231f20" stroke-width="3.6" />
<line x1="1240.4" y1="1319.5" x2="1240.4" y2="1310.5" stroke="#231f20" stroke-width="3.6" />
<line x1="1382.7" y1="1319.5" x2="1382.7" y2="1310.5" stroke="#231f20" stroke-width="3.6" />
<line x1="1525.3" y1="1319.5" x2="1525.3" y2="1310.5" stroke="#231f20" stroke-width="3.6" />
<line x1="1667.6" y1="1319.5" x2="1667.6" y2="1310.5" stroke="#231f20" stroke-width="3.6" />
<line x1="948.9" y1="944.2" x2="962.7" y2="944.2" stroke="#231f20" stroke-width="3.4" />
<line x1="948.9" y1="1052.7" x2="962.7" y2="1052.7" stroke="#231f20" stroke-width="3.4" />
<line x1="955.8" y1="998.9" x2="955.8" y2="1052.7" stroke="#231f20" stroke-width="3.9" />
<g clip-path="url(#clipBR)">
<line x1="955.8" y1="1181.3" x2="955.8" y2="1311.8" stroke="#0000ff" stroke-width="3.9" />
<line x1="948.9" y1="1181.3" x2="962.7" y2="1181.3" stroke="#0000ff" stroke-width="3.6" />
<line x1="948.9" y1="1311.8" x2="962.7" y2="1311.8" stroke="#0000ff" stroke-width="3.6" />
<line x1="1097.8" y1="1162.6" x2="1097.8" y2="1291.2" stroke="#0000ff" stroke-width="3.9" />
<line x1="1090.9" y1="1162.6" x2="1104.7" y2="1162.6" stroke="#0000ff" stroke-width="3.6" />
<line x1="1090.9" y1="1291.2" x2="1104.7" y2="1291.2" stroke="#0000ff" stroke-width="3.6" />
<line x1="1240.4" y1="1126.6" x2="1240.4" y2="1236.3" stroke="#0000ff" stroke-width="3.9" />
<line x1="1233.5" y1="1126.6" x2="1247.3" y2="1126.6" stroke="#0000ff" stroke-width="3.6" />
<line x1="1233.5" y1="1236.3" x2="1247.3" y2="1236.3" stroke="#0000ff" stroke-width="3.6" />
<line x1="1382.7" y1="1057.1" x2="1382.7" y2="1175" stroke="#0000ff" stroke-width="3.9" />
<line x1="1375.8" y1="1057.1" x2="1389.6" y2="1057.1" stroke="#0000ff" stroke-width="3.6" />
<line x1="1375.8" y1="1175" x2="1389.6" y2="1175" stroke="#0000ff" stroke-width="3.6" />
<line x1="1525.3" y1="1044.5" x2="1525.3" y2="1122" stroke="#0000ff" stroke-width="3.9" />
<line x1="1518.4" y1="1044.5" x2="1532.2" y2="1044.5" stroke="#0000ff" stroke-width="3.6" />
<line x1="1518.4" y1="1122" x2="1532.2" y2="1122" stroke="#0000ff" stroke-width="3.6" />
<line x1="1667.6" y1="1043.1" x2="1667.6" y2="1150.3" stroke="#0000ff" stroke-width="3.9" />
<line x1="1660.7" y1="1043.1" x2="1674.5" y2="1043.1" stroke="#0000ff" stroke-width="3.6" />
<line x1="1660.7" y1="1150.3" x2="1674.5" y2="1150.3" stroke="#0000ff" stroke-width="3.6" />
<polyline points="955.8,1246.4 1097.8,1227.2 1240.4,1181.3 1382.7,1116.2 1525.3,1083.8 1667.6,1096.7" fill="none" stroke="#0000ff" stroke-width="4.1" stroke-linejoin="round"/>
<circle cx="955.8" cy="1246.4" r="6.5" fill="none" stroke="#0000ff" stroke-width="5"/>
<circle cx="1097.8" cy="1227.2" r="6.5" fill="none" stroke="#0000ff" stroke-width="5"/>
<circle cx="1240.4" cy="1181.3" r="6.5" fill="none" stroke="#0000ff" stroke-width="5"/>
<circle cx="1382.7" cy="1116.2" r="6.5" fill="none" stroke="#0000ff" stroke-width="5"/>
<circle cx="1525.3" cy="1083.8" r="6.5" fill="none" stroke="#0000ff" stroke-width="5"/>
<circle cx="1667.6" cy="1096.7" r="6.5" fill="none" stroke="#0000ff" stroke-width="5"/>
<line x1="955.8" y1="1070.6" x2="955.8" y2="1187.6" stroke="#00ffff" stroke-width="3.9" />
<line x1="948.9" y1="1070.6" x2="962.7" y2="1070.6" stroke="#00ffff" stroke-width="3.4" />
<line x1="948.9" y1="1187.6" x2="962.7" y2="1187.6" stroke="#00ffff" stroke-width="3.4" />
<line x1="1097.8" y1="1096.4" x2="1097.8" y2="1175" stroke="#00ffff" stroke-width="3.9" />
<line x1="1090.9" y1="1096.4" x2="1104.7" y2="1096.4" stroke="#00ffff" stroke-width="3.4" />
<line x1="1090.9" y1="1175" x2="1104.7" y2="1175" stroke="#00ffff" stroke-width="3.4" />
<line x1="1240.4" y1="1120.3" x2="1240.4" y2="1242.3" stroke="#00ffff" stroke-width="3.9" />
<line x1="1233.5" y1="1120.3" x2="1247.3" y2="1120.3" stroke="#00ffff" stroke-width="3.4" />
<line x1="1233.5" y1="1242.3" x2="1247.3" y2="1242.3" stroke="#00ffff" stroke-width="3.4" />
<line x1="1382.7" y1="1141.5" x2="1382.7" y2="1233.8" stroke="#00ffff" stroke-width="3.9" />
<line x1="1375.8" y1="1141.5" x2="1389.6" y2="1141.5" stroke="#00ffff" stroke-width="3.4" />
<line x1="1375.8" y1="1233.8" x2="1389.6" y2="1233.8" stroke="#00ffff" stroke-width="3.4" />
<line x1="1525.3" y1="1110.7" x2="1525.3" y2="1186.8" stroke="#00ffff" stroke-width="3.9" />
<line x1="1518.4" y1="1110.7" x2="1532.2" y2="1110.7" stroke="#00ffff" stroke-width="3.4" />
<line x1="1518.4" y1="1186.8" x2="1532.2" y2="1186.8" stroke="#00ffff" stroke-width="3.4" />
<line x1="1667.6" y1="1081.9" x2="1667.6" y2="1189.6" stroke="#00ffff" stroke-width="3.9" />
<line x1="1660.7" y1="1081.9" x2="1674.5" y2="1081.9" stroke="#00ffff" stroke-width="3.4" />
<line x1="1660.7" y1="1189.6" x2="1674.5" y2="1189.6" stroke="#00ffff" stroke-width="3.4" />
<polyline points="955.8,1129.1 1097.8,1135.7 1240.4,1181.3 1382.7,1187.6 1525.3,1148.6 1667.6,1135.7" fill="none" stroke="#00ffff" stroke-width="4.1" stroke-linejoin="round"/>
<circle cx="955.8" cy="1129.1" r="6.5" fill="none" stroke="#00ffff" stroke-width="5"/>
<circle cx="1097.8" cy="1135.7" r="6.5" fill="none" stroke="#00ffff" stroke-width="5"/>
<circle cx="1240.4" cy="1181.3" r="6.5" fill="none" stroke="#00ffff" stroke-width="5"/>
<circle cx="1382.7" cy="1187.6" r="6.5" fill="none" stroke="#00ffff" stroke-width="5"/>
<circle cx="1525.3" cy="1148.6" r="6.5" fill="none" stroke="#00ffff" stroke-width="5"/>
<circle cx="1667.6" cy="1135.7" r="6.5" fill="none" stroke="#00ffff" stroke-width="5"/>
<line x1="955.8" y1="1160.7" x2="955.8" y2="1253.8" stroke="#808080" stroke-width="3.9" />
<line x1="948.9" y1="1160.7" x2="962.7" y2="1160.7" stroke="#808080" stroke-width="3.4" />
<line x1="948.9" y1="1253.8" x2="962.7" y2="1253.8" stroke="#808080" stroke-width="3.4" />
<line x1="1097.8" y1="1110.7" x2="1097.8" y2="1212.9" stroke="#808080" stroke-width="3.9" />
<line x1="1090.9" y1="1110.7" x2="1104.7" y2="1110.7" stroke="#808080" stroke-width="3.4" />
<line x1="1090.9" y1="1212.9" x2="1104.7" y2="1212.9" stroke="#808080" stroke-width="3.4" />
<line x1="1240.4" y1="1148.6" x2="1240.4" y2="1253.3" stroke="#808080" stroke-width="3.9" />
<line x1="1233.5" y1="1148.6" x2="1247.3" y2="1148.6" stroke="#808080" stroke-width="3.4" />
<line x1="1233.5" y1="1253.3" x2="1247.3" y2="1253.3" stroke="#808080" stroke-width="3.4" />
<line x1="1382.7" y1="1142.3" x2="1382.7" y2="1245.6" stroke="#808080" stroke-width="3.9" />
<line x1="1375.8" y1="1142.3" x2="1389.6" y2="1142.3" stroke="#808080" stroke-width="3.4" />
<line x1="1375.8" y1="1245.6" x2="1389.6" y2="1245.6" stroke="#808080" stroke-width="3.4" />
<line x1="1525.3" y1="1137.1" x2="1525.3" y2="1251.4" stroke="#808080" stroke-width="3.9" />
<line x1="1518.4" y1="1137.1" x2="1532.2" y2="1137.1" stroke="#808080" stroke-width="3.4" />
<line x1="1518.4" y1="1251.4" x2="1532.2" y2="1251.4" stroke="#808080" stroke-width="3.4" />
<line x1="1667.6" y1="1137.4" x2="1667.6" y2="1225.3" stroke="#808080" stroke-width="3.9" />
<line x1="1660.7" y1="1137.4" x2="1674.5" y2="1137.4" stroke="#808080" stroke-width="3.4" />
<line x1="1660.7" y1="1225.3" x2="1674.5" y2="1225.3" stroke="#808080" stroke-width="3.4" />
<polyline points="955.8,1207.4 1097.8,1162.1 1240.4,1201.4 1382.7,1194.5 1525.3,1194.5 1667.6,1181.3" fill="none" stroke="#808080" stroke-width="4.1" stroke-linejoin="round"/>
<circle cx="955.8" cy="1207.4" r="6.5" fill="none" stroke="#808080" stroke-width="5"/>
<circle cx="1097.8" cy="1162.1" r="6.5" fill="none" stroke="#808080" stroke-width="5"/>
<circle cx="1240.4" cy="1201.4" r="6.5" fill="none" stroke="#808080" stroke-width="5"/>
<circle cx="1382.7" cy="1194.5" r="6.5" fill="none" stroke="#808080" stroke-width="5"/>
<circle cx="1525.3" cy="1194.5" r="6.5" fill="none" stroke="#808080" stroke-width="5"/>
<circle cx="1667.6" cy="1181.3" r="6.5" fill="none" stroke="#808080" stroke-width="5"/>
</g>
<line x1="955.8" y1="1194.5" x2="1668.1" y2="1194.5" stroke="#000" stroke-width="3.7" stroke-dasharray="31.4 31.16"/>
<circle cx="1541.8" cy="1067.3" r="6.7" fill="#0000ff"/>
<text x="941.8" y="1328.5" font-size="19.3" fill="#231f20" text-anchor="end" >0.4</text>
<text x="941.8" y="1203.4" font-size="19.3" fill="#231f20" text-anchor="end" >0.5</text>
<text x="941.8" y="1078.3" font-size="19.3" fill="#231f20" text-anchor="end" >0.6</text>
<text x="941.8" y="953.2" font-size="19.3" fill="#231f20" text-anchor="end" >0.7</text>
<text x="941.8" y="828.1" font-size="19.3" fill="#231f20" text-anchor="end" >0.8</text>
<text x="954.3" y="1350.8" font-size="19.3" fill="#231f20" text-anchor="middle" >0.9</text>
<text x="1095.3" y="1350.8" font-size="19.3" fill="#231f20" text-anchor="middle" >0.74</text>
<text x="1237.6" y="1350.8" font-size="19.3" fill="#231f20" text-anchor="middle" >0.58</text>
<text x="1380.2" y="1350.8" font-size="19.3" fill="#231f20" text-anchor="middle" >0.42</text>
<text x="1522.8" y="1350.8" font-size="19.3" fill="#231f20" text-anchor="middle" >0.26</text>
<text x="1665.9" y="1350.8" font-size="19.3" fill="#231f20" text-anchor="middle" >0.1</text>
<text x="954.1" y="1384" font-size="25.6" fill="#000" textLength="59.6" lengthAdjust="spacingAndGlyphs" >Deep</text>
<text x="1270.9" y="1384" font-size="25.6" fill="#000" textLength="78.4" lengthAdjust="spacingAndGlyphs" >Middle</text>
<text x="1670.9" y="1384" font-size="25.6" fill="#000" text-anchor="end" textLength="119" lengthAdjust="spacingAndGlyphs" >Superficial</text>
</g>
<!-- panel CL -->
<g id="panelCL">
<clipPath id="clipCL"><rect x="83.65" y="1472.2" width="760" height="568"/></clipPath>
<line x1="95.65" y1="1472.2" x2="95.65" y2="2039.7" stroke="#231f20" stroke-width="3" />
<line x1="94.15" y1="2038.2" x2="811.5" y2="2038.2" stroke="#231f20" stroke-width="2.85" />
<line x1="95.65" y1="1975.5" x2="104.05" y2="1975.5" stroke="#231f20" stroke-width="2.1" />
<line x1="95.65" y1="1912.8" x2="104.05" y2="1912.8" stroke="#231f20" stroke-width="2.1" />
<line x1="95.65" y1="1850.1" x2="104.05" y2="1850.1" stroke="#231f20" stroke-width="2.1" />
<line x1="95.65" y1="1787.4" x2="104.05" y2="1787.4" stroke="#231f20" stroke-width="2.1" />
<line x1="95.65" y1="1724.7" x2="104.05" y2="1724.7" stroke="#231f20" stroke-width="2.1" />
<line x1="95.65" y1="1662" x2="104.05" y2="1662" stroke="#231f20" stroke-width="2.1" />
<line x1="95.65" y1="1599.3" x2="104.05" y2="1599.3" stroke="#231f20" stroke-width="2.1" />
<line x1="95.65" y1="1536.6" x2="104.05" y2="1536.6" stroke="#231f20" stroke-width="2.1" />
<line x1="95.65" y1="1473.9" x2="104.05" y2="1473.9" stroke="#231f20" stroke-width="2.1" />
<line x1="238.7" y1="2038.2" x2="238.7" y2="2030.2" stroke="#231f20" stroke-width="2.1" />
<line x1="381.6" y1="2038.2" x2="381.6" y2="2030.2" stroke="#231f20" stroke-width="2.1" />
<line x1="524.5" y1="2038.2" x2="524.5" y2="2030.2" stroke="#231f20" stroke-width="2.1" />
<line x1="667.3" y1="2038.2" x2="667.3" y2="2030.2" stroke="#231f20" stroke-width="2.1" />
<line x1="810.2" y1="2038.2" x2="810.2" y2="2030.2" stroke="#231f20" stroke-width="2.1" />
<g clip-path="url(#clipCL)">
<line x1="95.95" y1="1514.8" x2="95.95" y2="1662.9" stroke="#231f20" stroke-width="3.8" />
<line x1="88.95" y1="1514.8" x2="102.95" y2="1514.8" stroke="#231f20" stroke-width="3.9" />
<line x1="88.95" y1="1662.9" x2="102.95" y2="1662.9" stroke="#231f20" stroke-width="3.9" />
<line x1="238.7" y1="1474.2" x2="238.7" y2="1609.1" stroke="#231f20" stroke-width="3.8" />
<line x1="231.7" y1="1474.2" x2="245.7" y2="1474.2" stroke="#231f20" stroke-width="3.9" />
<line x1="231.7" y1="1609.1" x2="245.7" y2="1609.1" stroke="#231f20" stroke-width="3.9" />
<line x1="381.6" y1="1489.6" x2="381.6" y2="1625.8" stroke="#231f20" stroke-width="3.8" />
<line x1="374.6" y1="1489.6" x2="388.6" y2="1489.6" stroke="#231f20" stroke-width="3.9" />
<line x1="374.6" y1="1625.8" x2="388.6" y2="1625.8" stroke="#231f20" stroke-width="3.9" />
<line x1="524.5" y1="1517" x2="524.5" y2="1640.7" stroke="#231f20" stroke-width="3.8" />
<line x1="517.5" y1="1517" x2="531.5" y2="1517" stroke="#231f20" stroke-width="3.9" />
<line x1="517.5" y1="1640.7" x2="531.5" y2="1640.7" stroke="#231f20" stroke-width="3.9" />
<line x1="667.3" y1="1505.8" x2="667.3" y2="1630.8" stroke="#231f20" stroke-width="3.8" />
<line x1="660.3" y1="1505.8" x2="674.3" y2="1505.8" stroke="#231f20" stroke-width="3.9" />
<line x1="660.3" y1="1630.8" x2="674.3" y2="1630.8" stroke="#231f20" stroke-width="3.9" />
<line x1="810.2" y1="1497" x2="810.2" y2="1618.4" stroke="#231f20" stroke-width="3.8" />
<line x1="803.2" y1="1497" x2="817.2" y2="1497" stroke="#231f20" stroke-width="3.9" />
<line x1="803.2" y1="1618.4" x2="817.2" y2="1618.4" stroke="#231f20" stroke-width="3.9" />
<polyline points="95.95,1589 238.7,1526.4 381.6,1557.7 524.5,1578.8 667.3,1569 810.2,1557.4" fill="none" stroke="#231f20" stroke-width="3.7" stroke-linejoin="round"/>
<circle cx="95.95" cy="1589" r="6.45" fill="none" stroke="#231f20" stroke-width="3.6"/>
<circle cx="238.7" cy="1526.4" r="6.45" fill="none" stroke="#231f20" stroke-width="3.6"/>
<circle cx="381.6" cy="1557.7" r="6.45" fill="none" stroke="#231f20" stroke-width="3.6"/>
<circle cx="524.5" cy="1578.8" r="6.45" fill="none" stroke="#231f20" stroke-width="3.6"/>
<circle cx="667.3" cy="1569" r="6.45" fill="none" stroke="#231f20" stroke-width="3.6"/>
<circle cx="810.2" cy="1557.4" r="6.45" fill="none" stroke="#231f20" stroke-width="3.6"/>
<line x1="95.95" y1="1848.6" x2="95.95" y2="1957.7" stroke="#0000ff" stroke-width="3.8" />
<line x1="88.95" y1="1848.6" x2="102.95" y2="1848.6" stroke="#0000ff" stroke-width="3.9" />
<line x1="88.95" y1="1957.7" x2="102.95" y2="1957.7" stroke="#0000ff" stroke-width="3.9" />
<line x1="238.7" y1="1804.1" x2="238.7" y2="1917.9" stroke="#0000ff" stroke-width="3.8" />
<line x1="231.7" y1="1804.1" x2="245.7" y2="1804.1" stroke="#0000ff" stroke-width="3.9" />
<line x1="231.7" y1="1917.9" x2="245.7" y2="1917.9" stroke="#0000ff" stroke-width="3.9" />
<line x1="381.6" y1="1906.3" x2="381.6" y2="2024.5" stroke="#0000ff" stroke-width="3.8" />
<line x1="374.6" y1="1906.3" x2="388.6" y2="1906.3" stroke="#0000ff" stroke-width="3.9" />
<line x1="374.6" y1="2024.5" x2="388.6" y2="2024.5" stroke="#0000ff" stroke-width="3.9" />
<line x1="524.5" y1="1839" x2="524.5" y2="2008.2" stroke="#0000ff" stroke-width="3.8" />
<line x1="517.5" y1="1839" x2="531.5" y2="1839" stroke="#0000ff" stroke-width="3.9" />
<line x1="517.5" y1="2008.2" x2="531.5" y2="2008.2" stroke="#0000ff" stroke-width="3.9" />
<line x1="667.3" y1="1745.3" x2="667.3" y2="1850.8" stroke="#0000ff" stroke-width="3.8" />
<line x1="660.3" y1="1745.3" x2="674.3" y2="1745.3" stroke="#0000ff" stroke-width="3.9" />
<line x1="660.3" y1="1850.8" x2="674.3" y2="1850.8" stroke="#0000ff" stroke-width="3.9" />
<line x1="810.2" y1="1810.2" x2="810.2" y2="1953" stroke="#0000ff" stroke-width="3.8" />
<line x1="803.2" y1="1810.2" x2="817.2" y2="1810.2" stroke="#0000ff" stroke-width="3.9" />
<line x1="803.2" y1="1953" x2="817.2" y2="1953" stroke="#0000ff" stroke-width="3.9" />
<polyline points="95.95,1903.3 238.7,1861.5 381.6,1965.9 524.5,1924.5 667.3,1796.7 810.2,1881.3" fill="none" stroke="#0000ff" stroke-width="3.7" stroke-linejoin="round"/>
<line x1="95.95" y1="1750" x2="95.95" y2="1825.3" stroke="#ff00ff" stroke-width="3.8" />
<line x1="88.95" y1="1750" x2="102.95" y2="1750" stroke="#ff00ff" stroke-width="3.9" />
<line x1="88.95" y1="1825.3" x2="102.95" y2="1825.3" stroke="#ff00ff" stroke-width="3.9" />
<line x1="238.7" y1="1734.1" x2="238.7" y2="1841.5" stroke="#ff00ff" stroke-width="3.8" />
<line x1="231.7" y1="1734.1" x2="245.7" y2="1734.1" stroke="#ff00ff" stroke-width="3.9" />
<line x1="231.7" y1="1841.5" x2="245.7" y2="1841.5" stroke="#ff00ff" stroke-width="3.9" />
<line x1="381.6" y1="1778.3" x2="381.6" y2="1880.5" stroke="#ff00ff" stroke-width="3.8" />
<line x1="374.6" y1="1778.3" x2="388.6" y2="1778.3" stroke="#ff00ff" stroke-width="3.9" />
<line x1="374.6" y1="1880.5" x2="388.6" y2="1880.5" stroke="#ff00ff" stroke-width="3.9" />
<line x1="524.5" y1="1781.9" x2="524.5" y2="1918.4" stroke="#ff00ff" stroke-width="3.8" />
<line x1="517.5" y1="1781.9" x2="531.5" y2="1781.9" stroke="#ff00ff" stroke-width="3.9" />
<line x1="517.5" y1="1918.4" x2="531.5" y2="1918.4" stroke="#ff00ff" stroke-width="3.9" />
<line x1="667.3" y1="1722.8" x2="667.3" y2="1894" stroke="#ff00ff" stroke-width="3.8" />
<line x1="660.3" y1="1722.8" x2="674.3" y2="1722.8" stroke="#ff00ff" stroke-width="3.9" />
<line x1="660.3" y1="1894" x2="674.3" y2="1894" stroke="#ff00ff" stroke-width="3.9" />
<line x1="810.2" y1="1763.5" x2="810.2" y2="1937.4" stroke="#ff00ff" stroke-width="3.8" />
<line x1="803.2" y1="1763.5" x2="817.2" y2="1763.5" stroke="#ff00ff" stroke-width="3.9" />
<line x1="803.2" y1="1937.4" x2="817.2" y2="1937.4" stroke="#ff00ff" stroke-width="3.9" />
<polyline points="95.95,1787.9 238.7,1787.9 381.6,1828.6 524.5,1850 667.3,1809.9 810.2,1850" fill="none" stroke="#ff00ff" stroke-width="3.7" stroke-linejoin="round"/>
<circle cx="95.95" cy="1787.9" r="6.45" fill="none" stroke="#ff00ff" stroke-width="3.6"/>
<circle cx="238.7" cy="1787.9" r="6.45" fill="none" stroke="#ff00ff" stroke-width="3.6"/>
<circle cx="381.6" cy="1828.6" r="6.45" fill="none" stroke="#ff00ff" stroke-width="3.6"/>
<circle cx="524.5" cy="1850" r="6.45" fill="none" stroke="#ff00ff" stroke-width="3.6"/>
<circle cx="667.3" cy="1809.9" r="6.45" fill="none" stroke="#ff00ff" stroke-width="3.6"/>
<circle cx="810.2" cy="1850" r="6.45" fill="none" stroke="#ff00ff" stroke-width="3.6"/>
<circle cx="95.95" cy="1903.3" r="6.45" fill="none" stroke="#0000ff" stroke-width="3.6"/>
<circle cx="238.7" cy="1861.5" r="6.45" fill="none" stroke="#0000ff" stroke-width="3.6"/>
<circle cx="381.6" cy="1965.9" r="6.45" fill="none" stroke="#0000ff" stroke-width="3.6"/>
<circle cx="524.5" cy="1924.5" r="6.45" fill="none" stroke="#0000ff" stroke-width="3.6"/>
<circle cx="667.3" cy="1796.7" r="6.45" fill="none" stroke="#0000ff" stroke-width="3.6"/>
<circle cx="810.2" cy="1881.3" r="6.45" fill="none" stroke="#0000ff" stroke-width="3.6"/>
</g>
<line x1="95.95" y1="1913.2" x2="810.7" y2="1913.2" stroke="#000" stroke-width="3.7" stroke-dasharray="31.4 31.16"/>
<g stroke="#000" stroke-width="4.1">
<line x1="101.2" y1="1569" x2="116.4" y2="1569"/>
<line x1="103" y1="1563.2" x2="114.6" y2="1574.8"/>
<line x1="108.8" y1="1561.4" x2="108.8" y2="1576.6"/>
<line x1="114.6" y1="1563.2" x2="103" y2="1574.8"/>
</g>
<g stroke="#000" stroke-width="4.1">
<line x1="244.3" y1="1510.7" x2="259.5" y2="1510.7"/>
<line x1="246.1" y1="1504.9" x2="257.7" y2="1516.5"/>
<line x1="251.9" y1="1503.1" x2="251.9" y2="1518.3"/>
<line x1="257.7" y1="1504.9" x2="246.1" y2="1516.5"/>
</g>
<g stroke="#000" stroke-width="4.1">
<line x1="385.8" y1="1542" x2="401" y2="1542"/>
<line x1="387.6" y1="1536.2" x2="399.2" y2="1547.8"/>
<line x1="393.4" y1="1534.4" x2="393.4" y2="1549.6"/>
<line x1="399.2" y1="1536.2" x2="387.6" y2="1547.8"/>
</g>
<g stroke="#000" stroke-width="4.1">
<line x1="528.9" y1="1561.5" x2="544.1" y2="1561.5"/>
<line x1="530.7" y1="1555.7" x2="542.3" y2="1567.3"/>
<line x1="536.5" y1="1553.9" x2="536.5" y2="1569.1"/>
<line x1="542.3" y1="1555.7" x2="530.7" y2="1567.3"/>
</g>
<g stroke="#000" stroke-width="4.1">
<line x1="672.1" y1="1551.9" x2="687.3" y2="1551.9"/>
<line x1="673.9" y1="1546.1" x2="685.5" y2="1557.7"/>
<line x1="679.7" y1="1544.3" x2="679.7" y2="1559.5"/>
<line x1="685.5" y1="1546.1" x2="673.9" y2="1557.7"/>
</g>
<g stroke="#000" stroke-width="4.1">
<line x1="816.9" y1="1542" x2="832.1" y2="1542"/>
<line x1="818.7" y1="1536.2" x2="830.3" y2="1547.8"/>
<line x1="824.5" y1="1534.4" x2="824.5" y2="1549.6"/>
<line x1="830.3" y1="1536.2" x2="818.7" y2="1547.8"/>
</g>
<g stroke="#ff00ff" stroke-width="4.1">
<line x1="101.2" y1="1770.6" x2="116.4" y2="1770.6"/>
<line x1="103" y1="1764.8" x2="114.6" y2="1776.4"/>
<line x1="108.8" y1="1763" x2="108.8" y2="1778.2"/>
<line x1="114.6" y1="1764.8" x2="103" y2="1776.4"/>
</g>
<g stroke="#ff00ff" stroke-width="4.1">
<line x1="244.3" y1="1770.6" x2="259.5" y2="1770.6"/>
<line x1="246.1" y1="1764.8" x2="257.7" y2="1776.4"/>
<line x1="251.9" y1="1763" x2="251.9" y2="1778.2"/>
<line x1="257.7" y1="1764.8" x2="246.1" y2="1776.4"/>
</g>
<g stroke="#0000ff" stroke-width="4.1">
<line x1="672.3" y1="1782.1" x2="687.5" y2="1782.1"/>
<line x1="674.1" y1="1776.3" x2="685.7" y2="1787.9"/>
<line x1="679.9" y1="1774.5" x2="679.9" y2="1789.7"/>
<line x1="685.7" y1="1776.3" x2="674.1" y2="1787.9"/>
</g>
<text x="82.6" y="2086" font-size="19.3" fill="#231f20" text-anchor="end" >0.4</text>
<text x="82.6" y="1921.4" font-size="19.3" fill="#231f20" text-anchor="end" >0.5</text>
<text x="82.6" y="1796" font-size="19.3" fill="#231f20" text-anchor="end" >0.6</text>
<text x="82.6" y="1670.6" font-size="19.3" fill="#231f20" text-anchor="end" >0.7</text>
<text x="82.6" y="1545.2" font-size="19.3" fill="#231f20" text-anchor="end" >0.8</text>
<text x="95.5" y="2070.2" font-size="19.3" fill="#231f20" text-anchor="middle" >0.9</text>
<text x="235.9" y="2070.2" font-size="19.3" fill="#231f20" text-anchor="middle" >0.74</text>
<text x="378.7" y="2070.2" font-size="19.3" fill="#231f20" text-anchor="middle" >0.58</text>
<text x="521.3" y="2070.2" font-size="19.3" fill="#231f20" text-anchor="middle" >0.42</text>
<text x="664.1" y="2070.2" font-size="19.3" fill="#231f20" text-anchor="middle" >0.26</text>
<text x="808.1" y="2070.2" font-size="19.3" fill="#231f20" text-anchor="middle" >0.1</text>
<text x="94" y="2104.5" font-size="25.6" fill="#000" textLength="59.6" lengthAdjust="spacingAndGlyphs" >Deep</text>
<text x="410.2" y="2104.5" font-size="25.6" fill="#000" textLength="78.4" lengthAdjust="spacingAndGlyphs" >Middle</text>
<text x="810.2" y="2104.5" font-size="25.6" fill="#000" text-anchor="end" textLength="119" lengthAdjust="spacingAndGlyphs" >Superficial</text>
</g>
<!-- panel CR -->
<g id="panelCR">
<clipPath id="clipCR"><rect x="942.1" y="1472.2" width="760" height="568"/></clipPath>
<line x1="954.1" y1="1472.2" x2="954.1" y2="2039.7" stroke="#231f20" stroke-width="3" />
<line x1="952.6" y1="2038.2" x2="1669.5" y2="2038.2" stroke="#231f20" stroke-width="2.85" />
<line x1="954.1" y1="1975.5" x2="962.5" y2="1975.5" stroke="#231f20" stroke-width="2.1" />
<line x1="954.1" y1="1912.8" x2="962.5" y2="1912.8" stroke="#231f20" stroke-width="2.1" />
<line x1="954.1" y1="1850.1" x2="962.5" y2="1850.1" stroke="#231f20" stroke-width="2.1" />
<line x1="954.1" y1="1787.4" x2="962.5" y2="1787.4" stroke="#231f20" stroke-width="2.1" />
<line x1="954.1" y1="1724.7" x2="962.5" y2="1724.7" stroke="#231f20" stroke-width="2.1" />
<line x1="954.1" y1="1662" x2="962.5" y2="1662" stroke="#231f20" stroke-width="2.1" />
<line x1="954.1" y1="1599.3" x2="962.5" y2="1599.3" stroke="#231f20" stroke-width="2.1" />
<line x1="954.1" y1="1536.6" x2="962.5" y2="1536.6" stroke="#231f20" stroke-width="2.1" />
<line x1="954.1" y1="1473.9" x2="962.5" y2="1473.9" stroke="#231f20" stroke-width="2.1" />
<line x1="1096.7" y1="2038.2" x2="1096.7" y2="2030.2" stroke="#231f20" stroke-width="2.1" />
<line x1="1239.8" y1="2038.2" x2="1239.8" y2="2030.2" stroke="#231f20" stroke-width="2.1" />
<line x1="1382.4" y1="2038.2" x2="1382.4" y2="2030.2" stroke="#231f20" stroke-width="2.1" />
<line x1="1525.3" y1="2038.2" x2="1525.3" y2="2030.2" stroke="#231f20" stroke-width="2.1" />
<line x1="1668.4" y1="2038.2" x2="1668.4" y2="2030.2" stroke="#231f20" stroke-width="2.1" />
<line x1="954.1" y1="1514.8" x2="961.6" y2="1514.8" stroke="#231f20" stroke-width="3.9" />
<line x1="954.1" y1="1662.9" x2="961.6" y2="1662.9" stroke="#231f20" stroke-width="3.9" />
<g clip-path="url(#clipCR)">
<line x1="954.9" y1="1848.6" x2="954.9" y2="1957.7" stroke="#0000ff" stroke-width="3.8" />
<line x1="947.9" y1="1848.6" x2="961.9" y2="1848.6" stroke="#0000ff" stroke-width="3.9" />
<line x1="947.9" y1="1957.7" x2="961.9" y2="1957.7" stroke="#0000ff" stroke-width="3.9" />
<line x1="1096.7" y1="1804.1" x2="1096.7" y2="1917.9" stroke="#0000ff" stroke-width="3.8" />
<line x1="1089.7" y1="1804.1" x2="1103.7" y2="1804.1" stroke="#0000ff" stroke-width="3.9" />
<line x1="1089.7" y1="1917.9" x2="1103.7" y2="1917.9" stroke="#0000ff" stroke-width="3.9" />
<line x1="1239.8" y1="1906.3" x2="1239.8" y2="2024.5" stroke="#0000ff" stroke-width="3.8" />
<line x1="1232.8" y1="1906.3" x2="1246.8" y2="1906.3" stroke="#0000ff" stroke-width="3.9" />
<line x1="1232.8" y1="2024.5" x2="1246.8" y2="2024.5" stroke="#0000ff" stroke-width="3.9" />
<line x1="1382.4" y1="1839" x2="1382.4" y2="2008.2" stroke="#0000ff" stroke-width="3.8" />
<line x1="1375.4" y1="1839" x2="1389.4" y2="1839" stroke="#0000ff" stroke-width="3.9" />
<line x1="1375.4" y1="2008.2" x2="1389.4" y2="2008.2" stroke="#0000ff" stroke-width="3.9" />
<line x1="1525.3" y1="1745.3" x2="1525.3" y2="1850.8" stroke="#0000ff" stroke-width="3.8" />
<line x1="1518.3" y1="1745.3" x2="1532.3" y2="1745.3" stroke="#0000ff" stroke-width="3.9" />
<line x1="1518.3" y1="1850.8" x2="1532.3" y2="1850.8" stroke="#0000ff" stroke-width="3.9" />
<line x1="1668.4" y1="1810.2" x2="1668.4" y2="1953" stroke="#0000ff" stroke-width="3.8" />
<line x1="1661.4" y1="1810.2" x2="1675.4" y2="1810.2" stroke="#0000ff" stroke-width="3.9" />
<line x1="1661.4" y1="1953" x2="1675.4" y2="1953" stroke="#0000ff" stroke-width="3.9" />
<polyline points="954.9,1903.3 1096.7,1861.5 1239.8,1965.9 1382.4,1924.5 1525.3,1796.7 1668.4,1881.3" fill="none" stroke="#0000ff" stroke-width="3.7" stroke-linejoin="round"/>
<line x1="954.9" y1="1803.3" x2="954.9" y2="1897.3" stroke="#00ffff" stroke-width="3.8" />
<line x1="947.9" y1="1803.3" x2="961.9" y2="1803.3" stroke="#00ffff" stroke-width="3.9" />
<line x1="947.9" y1="1897.3" x2="961.9" y2="1897.3" stroke="#00ffff" stroke-width="3.9" />
<line x1="1096.7" y1="1853.8" x2="1096.7" y2="1971.7" stroke="#00ffff" stroke-width="3.8" />
<line x1="1089.7" y1="1853.8" x2="1103.7" y2="1853.8" stroke="#00ffff" stroke-width="3.9" />
<line x1="1089.7" y1="1971.7" x2="1103.7" y2="1971.7" stroke="#00ffff" stroke-width="3.9" />
<line x1="1239.8" y1="1814.6" x2="1239.8" y2="1928" stroke="#00ffff" stroke-width="3.8" />
<line x1="1232.8" y1="1814.6" x2="1246.8" y2="1814.6" stroke="#00ffff" stroke-width="3.9" />
<line x1="1232.8" y1="1928" x2="1246.8" y2="1928" stroke="#00ffff" stroke-width="3.9" />
<line x1="1382.4" y1="1834.6" x2="1382.4" y2="1928" stroke="#00ffff" stroke-width="3.8" />
<line x1="1375.4" y1="1834.6" x2="1389.4" y2="1834.6" stroke="#00ffff" stroke-width="3.9" />
<line x1="1375.4" y1="1928" x2="1389.4" y2="1928" stroke="#00ffff" stroke-width="3.9" />
<line x1="1525.3" y1="1866.5" x2="1525.3" y2="1980.8" stroke="#00ffff" stroke-width="3.8" />
<line x1="1518.3" y1="1866.5" x2="1532.3" y2="1866.5" stroke="#00ffff" stroke-width="3.9" />
<line x1="1518.3" y1="1980.8" x2="1532.3" y2="1980.8" stroke="#00ffff" stroke-width="3.9" />
<line x1="1668.4" y1="1809.1" x2="1668.4" y2="1871.7" stroke="#00ffff" stroke-width="3.8" />
<line x1="1661.4" y1="1809.1" x2="1675.4" y2="1809.1" stroke="#00ffff" stroke-width="3.9" />
<line x1="1661.4" y1="1871.7" x2="1675.4" y2="1871.7" stroke="#00ffff" stroke-width="3.9" />
<polyline points="954.9,1850.3 1096.7,1913.7 1239.8,1872.3 1382.4,1881.3 1525.3,1924.5 1668.4,1840.1" fill="none" stroke="#00ffff" stroke-width="3.7" stroke-linejoin="round"/>
<circle cx="954.9" cy="1850.3" r="6.45" fill="none" stroke="#00ffff" stroke-width="3.6"/>
<circle cx="1096.7" cy="1913.7" r="6.45" fill="none" stroke="#00ffff" stroke-width="3.6"/>
<circle cx="1239.8" cy="1872.3" r="6.45" fill="none" stroke="#00ffff" stroke-width="3.6"/>
<circle cx="1382.4" cy="1881.3" r="6.45" fill="none" stroke="#00ffff" stroke-width="3.6"/>
<circle cx="1525.3" cy="1924.5" r="6.45" fill="none" stroke="#00ffff" stroke-width="3.6"/>
<circle cx="1668.4" cy="1840.1" r="6.45" fill="none" stroke="#00ffff" stroke-width="3.6"/>
<line x1="954.9" y1="1829.9" x2="954.9" y2="1953" stroke="#808080" stroke-width="3.8" />
<line x1="947.9" y1="1829.9" x2="961.9" y2="1829.9" stroke="#808080" stroke-width="3.9" />
<line x1="947.9" y1="1953" x2="961.9" y2="1953" stroke="#808080" stroke-width="3.9" />
<line x1="1096.7" y1="1816.5" x2="1096.7" y2="1988.5" stroke="#808080" stroke-width="3.8" />
<line x1="1089.7" y1="1816.5" x2="1103.7" y2="1816.5" stroke="#808080" stroke-width="3.9" />
<line x1="1089.7" y1="1988.5" x2="1103.7" y2="1988.5" stroke="#808080" stroke-width="3.9" />
<line x1="1239.8" y1="1898.4" x2="1239.8" y2="2011.3" stroke="#808080" stroke-width="3.8" />
<line x1="1232.8" y1="1898.4" x2="1246.8" y2="1898.4" stroke="#808080" stroke-width="3.9" />
<line x1="1232.8" y1="2011.3" x2="1246.8" y2="2011.3" stroke="#808080" stroke-width="3.9" />
<line x1="1382.4" y1="1858.5" x2="1382.4" y2="1988.5" stroke="#808080" stroke-width="3.8" />
<line x1="1375.4" y1="1858.5" x2="1389.4" y2="1858.5" stroke="#808080" stroke-width="3.9" />
<line x1="1375.4" y1="1988.5" x2="1389.4" y2="1988.5" stroke="#808080" stroke-width="3.9" />
<line x1="1525.3" y1="1892.9" x2="1525.3" y2="1996.2" stroke="#808080" stroke-width="3.8" />
<line x1="1518.3" y1="1892.9" x2="1532.3" y2="1892.9" stroke="#808080" stroke-width="3.9" />
<line x1="1518.3" y1="1996.2" x2="1532.3" y2="1996.2" stroke="#808080" stroke-width="3.9" />
<line x1="1668.4" y1="1952.7" x2="1668.4" y2="2060" stroke="#808080" stroke-width="3.8" />
<line x1="1661.4" y1="1952.7" x2="1675.4" y2="1952.7" stroke="#808080" stroke-width="3.9" />
<line x1="1661.4" y1="2060" x2="1675.4" y2="2060" stroke="#808080" stroke-width="3.9" />
<polyline points="954.9,1891.8 1096.7,1902.7 1239.8,1954.1 1382.4,1924.5 1525.3,1944 1668.4,2017.9" fill="none" stroke="#808080" stroke-width="3.7" stroke-linejoin="round"/>
<circle cx="954.9" cy="1891.8" r="6.45" fill="none" stroke="#808080" stroke-width="3.6"/>
<circle cx="1096.7" cy="1902.7" r="6.45" fill="none" stroke="#808080" stroke-width="3.6"/>
<circle cx="1239.8" cy="1954.1" r="6.45" fill="none" stroke="#808080" stroke-width="3.6"/>
<circle cx="1382.4" cy="1924.5" r="6.45" fill="none" stroke="#808080" stroke-width="3.6"/>
<circle cx="1525.3" cy="1944" r="6.45" fill="none" stroke="#808080" stroke-width="3.6"/>
<circle cx="1668.4" cy="2017.9" r="6.45" fill="none" stroke="#808080" stroke-width="3.6"/>
<circle cx="954.9" cy="1903.3" r="6.45" fill="none" stroke="#0000ff" stroke-width="3.6"/>
<circle cx="1096.7" cy="1861.5" r="6.45" fill="none" stroke="#0000ff" stroke-width="3.6"/>
<circle cx="1239.8" cy="1965.9" r="6.45" fill="none" stroke="#0000ff" stroke-width="3.6"/>
<circle cx="1382.4" cy="1924.5" r="6.45" fill="none" stroke="#0000ff" stroke-width="3.6"/>
<circle cx="1525.3" cy="1796.7" r="6.45" fill="none" stroke="#0000ff" stroke-width="3.6"/>
<circle cx="1668.4" cy="1881.3" r="6.45" fill="none" stroke="#0000ff" stroke-width="3.6"/>
</g>
<line x1="954.9" y1="1913.2" x2="1668.9" y2="1913.2" stroke="#000" stroke-width="3.7" stroke-dasharray="31.4 31.16"/>
<g stroke="#0000ff" stroke-width="4.1">
<line x1="1530.3" y1="1782.1" x2="1545.5" y2="1782.1"/>
<line x1="1532.1" y1="1776.3" x2="1543.7" y2="1787.9"/>
<line x1="1537.9" y1="1774.5" x2="1537.9" y2="1789.7"/>
<line x1="1543.7" y1="1776.3" x2="1532.1" y2="1787.9"/>
</g>
<g stroke="#00ffff" stroke-width="4.1">
<line x1="1647.4" y1="1823.4" x2="1662.6" y2="1823.4"/>
<line x1="1649.2" y1="1817.6" x2="1660.8" y2="1829.2"/>
<line x1="1655" y1="1815.8" x2="1655" y2="1831"/>
<line x1="1660.8" y1="1817.6" x2="1649.2" y2="1829.2"/>
</g>
<text x="940.8" y="2046.8" font-size="19.3" fill="#231f20" text-anchor="end" >0.4</text>
<text x="940.8" y="1921.4" font-size="19.3" fill="#231f20" text-anchor="end" >0.5</text>
<text x="940.8" y="1796" font-size="19.3" fill="#231f20" text-anchor="end" >0.6</text>
<text x="940.8" y="1670.6" font-size="19.3" fill="#231f20" text-anchor="end" >0.7</text>
<text x="940.8" y="1545.2" font-size="19.3" fill="#231f20" text-anchor="end" >0.8</text>
<text x="953.7" y="2070.2" font-size="19.3" fill="#231f20" text-anchor="middle" >0.9</text>
<text x="1094.1" y="2070.2" font-size="19.3" fill="#231f20" text-anchor="middle" >0.74</text>
<text x="1237.1" y="2070.2" font-size="19.3" fill="#231f20" text-anchor="middle" >0.58</text>
<text x="1379.4" y="2070.2" font-size="19.3" fill="#231f20" text-anchor="middle" >0.42</text>
<text x="1522.5" y="2070.2" font-size="19.3" fill="#231f20" text-anchor="middle" >0.26</text>
<text x="1666.9" y="2070.2" font-size="19.3" fill="#231f20" text-anchor="middle" >0.1</text>
<text x="954.1" y="2104.5" font-size="25.6" fill="#000" textLength="59.6" lengthAdjust="spacingAndGlyphs" >Deep</text>
<text x="1270.9" y="2104.5" font-size="25.6" fill="#000" textLength="78.4" lengthAdjust="spacingAndGlyphs" >Middle</text>
<text x="1670.9" y="2104.5" font-size="25.6" fill="#000" text-anchor="end" textLength="119" lengthAdjust="spacingAndGlyphs" >Superficial</text>
</g>
<text x="0.6" y="33" font-size="36" fill="#000" textLength="33" lengthAdjust="spacingAndGlyphs" >A.</text>
<text x="-0.6" y="743.1" font-size="36" fill="#000" textLength="33" lengthAdjust="spacingAndGlyphs" >B.</text>
<text x="-0.4" y="1461" font-size="36" fill="#000" textLength="33" lengthAdjust="spacingAndGlyphs" >C.</text>
<text x="31.2" y="320.9" font-size="25.6" fill="#231f20" text-anchor="middle" textLength="326.6" lengthAdjust="spacingAndGlyphs" transform="rotate(-90 31.2 320.9)" >Classifier Performance (ratio)</text>
<text x="31.4" y="1033" font-size="25.6" fill="#231f20" text-anchor="middle" textLength="326.6" lengthAdjust="spacingAndGlyphs" transform="rotate(-90 31.4 1033)" >Classifier Performance (ratio)</text>
<text x="31.2" y="1754.5" font-size="25.6" fill="#231f20" text-anchor="middle" textLength="326.6" lengthAdjust="spacingAndGlyphs" transform="rotate(-90 31.2 1754.5)" >Classifier Performance (ratio)</text>
<text x="740.7" y="55.8" font-size="25.6" fill="#000" text-anchor="end" textLength="211.7" lengthAdjust="spacingAndGlyphs" >Illusory Perception</text>
<line x1="749.5" y1="47" x2="819.8" y2="47" stroke="#0000ff" stroke-width="3.9" />
<circle cx="785.4" cy="47" r="8.4" fill="none" stroke="#0000ff" stroke-width="4.2"/>
<text x="740.7" y="94.8" font-size="25.6" fill="#000" text-anchor="end" textLength="92.5" lengthAdjust="spacingAndGlyphs" >Imagery</text>
<line x1="749.5" y1="85.2" x2="819.8" y2="85.2" stroke="#ff00ff" stroke-width="3.9" />
<circle cx="785.4" cy="85.2" r="8.4" fill="none" stroke="#ff00ff" stroke-width="4.2"/>
<text x="740.7" y="133.8" font-size="25.6" fill="#000" text-anchor="end" textLength="121.5" lengthAdjust="spacingAndGlyphs" >Perception</text>
<line x1="749.5" y1="124.5" x2="819.8" y2="124.5" stroke="#231f20" stroke-width="3.9" />
<circle cx="785.4" cy="124.5" r="8.4" fill="none" stroke="#231f20" stroke-width="4.2"/>
<text x="1574.2" y="55.8" font-size="25.6" fill="#000" text-anchor="end" textLength="211" lengthAdjust="spacingAndGlyphs" >Illusory Perception</text>
<line x1="1596.2" y1="45.9" x2="1667" y2="45.9" stroke="#0000ff" stroke-width="3.9" />
<circle cx="1632.4" cy="45.9" r="8.4" fill="none" stroke="#0000ff" stroke-width="4.2"/>
<text x="1574.2" y="94.8" font-size="25.6" fill="#000" text-anchor="end" textLength="87.4" lengthAdjust="spacingAndGlyphs" >Amodal</text>
<line x1="1596.2" y1="85.2" x2="1667" y2="85.2" stroke="#00ffff" stroke-width="3.9" />
<circle cx="1632.4" cy="85.2" r="8.4" fill="none" stroke="#00ffff" stroke-width="4.2"/>
<text x="1574.2" y="133.8" font-size="25.6" fill="#000" text-anchor="end" textLength="60" lengthAdjust="spacingAndGlyphs" >Mock</text>
<line x1="1596.2" y1="123.9" x2="1667" y2="123.9" stroke="#808080" stroke-width="3.9" />
<circle cx="1632.4" cy="123.9" r="8.4" fill="none" stroke="#808080" stroke-width="4.2"/>
<line x1="106" y1="2141.1" x2="798" y2="2141.1" stroke="#231f20" stroke-width="3.9" />
<path d="M94,2141.1 C103,2136.6 110.5,2131.1 115.8,2123.1 L109.4,2141.1 L115.8,2159.1 C110.5,2151.1 103,2145.6 94,2141.1Z" fill="#231f20"/>
<path d="M810,2141.1 C801,2136.6 793.5,2131.1 788.2,2123.1 L794.6,2141.1 L788.2,2159.1 C793.5,2151.1 801,2145.6 810,2141.1Z" fill="#231f20"/>
<text x="441.7" y="2188.9" font-size="25.6" fill="#231f20" text-anchor="middle" textLength="395.2" lengthAdjust="spacingAndGlyphs" >Cortical depth (ratio) from WM/GM</text>
<text x="441.7" y="2221.9" font-size="25.6" fill="#231f20" text-anchor="middle" textLength="276.8" lengthAdjust="spacingAndGlyphs" >boundary to pial surface</text>
<line x1="965.6" y1="2141.1" x2="1657" y2="2141.1" stroke="#231f20" stroke-width="3.9" />
<path d="M953.6,2141.1 C962.6,2136.6 970.1,2131.1 975.4,2123.1 L969,2141.1 L975.4,2159.1 C970.1,2151.1 962.6,2145.6 953.6,2141.1Z" fill="#231f20"/>
<path d="M1669,2141.1 C1660,2136.6 1652.5,2131.1 1647.2,2123.1 L1653.6,2141.1 L1647.2,2159.1 C1652.5,2151.1 1660,2145.6 1669,2141.1Z" fill="#231f20"/>
<text x="1308.3" y="2188.9" font-size="25.6" fill="#231f20" text-anchor="middle" textLength="395.2" lengthAdjust="spacingAndGlyphs" >Cortical depth (ratio) from WM/GM</text>
<text x="1308.3" y="2221.9" font-size="25.6" fill="#231f20" text-anchor="middle" textLength="276.8" lengthAdjust="spacingAndGlyphs" >boundary to pial surface</text>
<!-- inset A -->
<text x="1857" y="308.3" font-size="25.6" fill="#000" text-anchor="middle" textLength="167.8" lengthAdjust="spacingAndGlyphs" >V1 ROI (centre)</text>
<rect x="1713.8" y="317.2" width="286.2" height="284.5" fill="#000"/>
<circle cx="1856.4" cy="459.6" r="61.1" fill="#00b100"/>
<path d="M1778.1,372.4 A8.9,8.9 0 1 0 1769.2,381.3" fill="none" stroke="#f2f2f2" stroke-width="1.35"/>
<path d="M1778.1,372.4 A8.9,8.9 0 0 1 1769.2,381.3" fill="none" stroke="#00b100" stroke-width="1.45"/>
<path d="M1787.2,372.4 A18,18 0 1 0 1769.2,390.4" fill="none" stroke="#f2f2f2" stroke-width="1.35"/>
<path d="M1787.2,372.4 A18,18 0 0 1 1769.2,390.4" fill="none" stroke="#00b100" stroke-width="1.45"/>
<path d="M1796.2,372.4 A27,27 0 1 0 1769.2,399.4" fill="none" stroke="#f2f2f2" stroke-width="1.35"/>
<path d="M1796.2,372.4 A27,27 0 0 1 1769.2,399.4" fill="none" stroke="#00b100" stroke-width="1.45"/>
<path d="M1805.2,372.4 A36,36 0 1 0 1769.2,408.4" fill="none" stroke="#f2f2f2" stroke-width="1.35"/>
<path d="M1805.2,372.4 A36,36 0 0 1 1769.2,408.4" fill="none" stroke="#00b100" stroke-width="1.45"/>
<path d="M1814.2,372.4 A45,45 0 1 0 1769.2,417.4" fill="none" stroke="#f2f2f2" stroke-width="1.35"/>
<path d="M1814.2,372.4 A45,45 0 0 1 1769.2,417.4" fill="none" stroke="#00b100" stroke-width="1.45"/>
<path d="M1934.8,372.4 A8.9,8.9 0 1 1 1943.7,381.3" fill="none" stroke="#f2f2f2" stroke-width="1.35"/>
<path d="M1934.8,372.4 A8.9,8.9 0 0 0 1943.7,381.3" fill="none" stroke="#00b100" stroke-width="1.45"/>
<path d="M1925.7,372.4 A18,18 0 1 1 1943.7,390.4" fill="none" stroke="#f2f2f2" stroke-width="1.35"/>
<path d="M1925.7,372.4 A18,18 0 0 0 1943.7,390.4" fill="none" stroke="#00b100" stroke-width="1.45"/>
<path d="M1916.7,372.4 A27,27 0 1 1 1943.7,399.4" fill="none" stroke="#f2f2f2" stroke-width="1.35"/>
<path d="M1916.7,372.4 A27,27 0 0 0 1943.7,399.4" fill="none" stroke="#00b100" stroke-width="1.45"/>
<path d="M1907.7,372.4 A36,36 0 1 1 1943.7,408.4" fill="none" stroke="#f2f2f2" stroke-width="1.35"/>
<path d="M1907.7,372.4 A36,36 0 0 0 1943.7,408.4" fill="none" stroke="#00b100" stroke-width="1.45"/>
<path d="M1898.7,372.4 A45,45 0 1 1 1943.7,417.4" fill="none" stroke="#f2f2f2" stroke-width="1.35"/>
<path d="M1898.7,372.4 A45,45 0 0 0 1943.7,417.4" fill="none" stroke="#00b100" stroke-width="1.45"/>
<path d="M1778.1,546.2 A8.9,8.9 0 1 1 1769.2,537.3" fill="none" stroke="#f2f2f2" stroke-width="1.35"/>
<path d="M1778.1,546.2 A8.9,8.9 0 0 0 1769.2,537.3" fill="none" stroke="#00b100" stroke-width="1.45"/>
<path d="M1787.2,546.2 A18,18 0 1 1 1769.2,528.2" fill="none" stroke="#f2f2f2" stroke-width="1.35"/>
<path d="M1787.2,546.2 A18,18 0 0 0 1769.2,528.2" fill="none" stroke="#00b100" stroke-width="1.45"/>
<path d="M1796.2,546.2 A27,27 0 1 1 1769.2,519.2" fill="none" stroke="#f2f2f2" stroke-width="1.35"/>
<path d="M1796.2,546.2 A27,27 0 0 0 1769.2,519.2" fill="none" stroke="#00b100" stroke-width="1.45"/>
<path d="M1805.2,546.2 A36,36 0 1 1 1769.2,510.2" fill="none" stroke="#f2f2f2" stroke-width="1.35"/>
<path d="M1805.2,546.2 A36,36 0 0 0 1769.2,510.2" fill="none" stroke="#00b100" stroke-width="1.45"/>
<path d="M1814.2,546.2 A45,45 0 1 1 1769.2,501.2" fill="none" stroke="#f2f2f2" stroke-width="1.35"/>
<path d="M1814.2,546.2 A45,45 0 0 0 1769.2,501.2" fill="none" stroke="#00b100" stroke-width="1.45"/>
<path d="M1934.8,546.2 A8.9,8.9 0 1 0 1943.7,537.3" fill="none" stroke="#f2f2f2" stroke-width="1.35"/>
<path d="M1934.8,546.2 A8.9,8.9 0 0 1 1943.7,537.3" fill="none" stroke="#00b100" stroke-width="1.45"/>
<path d="M1925.7,546.2 A18,18 0 1 0 1943.7,528.2" fill="none" stroke="#f2f2f2" stroke-width="1.35"/>
<path d="M1925.7,546.2 A18,18 0 0 1 1943.7,528.2" fill="none" stroke="#00b100" stroke-width="1.45"/>
<path d="M1916.7,546.2 A27,27 0 1 0 1943.7,519.2" fill="none" stroke="#f2f2f2" stroke-width="1.35"/>
<path d="M1916.7,546.2 A27,27 0 0 1 1943.7,519.2" fill="none" stroke="#00b100" stroke-width="1.45"/>
<path d="M1907.7,546.2 A36,36 0 1 0 1943.7,510.2" fill="none" stroke="#f2f2f2" stroke-width="1.35"/>
<path d="M1907.7,546.2 A36,36 0 0 1 1943.7,510.2" fill="none" stroke="#00b100" stroke-width="1.45"/>
<path d="M1898.7,546.2 A45,45 0 1 0 1943.7,501.2" fill="none" stroke="#f2f2f2" stroke-width="1.35"/>
<path d="M1898.7,546.2 A45,45 0 0 1 1943.7,501.2" fill="none" stroke="#00b100" stroke-width="1.45"/>
<circle cx="1856.4" cy="459.6" r="41.7" fill="none" stroke="#fff" stroke-width="3.8" stroke-dasharray="12.6 6.115" transform="rotate(269 1856.4 459.6)"/>
<line x1="1854" y1="459.6" x2="1858.8" y2="459.6" stroke="#f0fff0" stroke-width="0.7" />
<line x1="1856.4" y1="457.2" x2="1856.4" y2="462" stroke="#f0fff0" stroke-width="0.7" />
<!-- inset B -->
<text x="1857.2" y="956.4" font-size="25.6" fill="#000" text-anchor="middle" textLength="170.8" lengthAdjust="spacingAndGlyphs" >V1 ROI (illusory</text>
<text x="1857.4" y="989.1" font-size="25.6" fill="#000" text-anchor="middle" textLength="154.2" lengthAdjust="spacingAndGlyphs" >boundaries in</text>
<text x="1857.7" y="1020.7" font-size="25.6" fill="#000" text-anchor="middle" textLength="117.2" lengthAdjust="spacingAndGlyphs" >periphery)</text>
<rect x="1713.8" y="1033.8" width="286.2" height="285.5" fill="#000"/>
<circle cx="1856.5" cy="1177" r="61.1" fill="#00b100"/>
<path d="M1778.2,1089.8 A8.9,8.9 0 1 0 1769.3,1098.7" fill="none" stroke="#f2f2f2" stroke-width="1.35"/>
<path d="M1778.2,1089.8 A8.9,8.9 0 0 1 1769.3,1098.7" fill="none" stroke="#00b100" stroke-width="1.45"/>
<path d="M1787.3,1089.8 A18,18 0 1 0 1769.3,1107.8" fill="none" stroke="#f2f2f2" stroke-width="1.35"/>
<path d="M1787.3,1089.8 A18,18 0 0 1 1769.3,1107.8" fill="none" stroke="#00b100" stroke-width="1.45"/>
<path d="M1796.3,1089.8 A27,27 0 1 0 1769.3,1116.8" fill="none" stroke="#f2f2f2" stroke-width="1.35"/>
<path d="M1796.3,1089.8 A27,27 0 0 1 1769.3,1116.8" fill="none" stroke="#00b100" stroke-width="1.45"/>
<path d="M1805.3,1089.8 A36,36 0 1 0 1769.3,1125.8" fill="none" stroke="#f2f2f2" stroke-width="1.35"/>
<path d="M1805.3,1089.8 A36,36 0 0 1 1769.3,1125.8" fill="none" stroke="#00b100" stroke-width="1.45"/>
<path d="M1814.3,1089.8 A45,45 0 1 0 1769.3,1134.8" fill="none" stroke="#f2f2f2" stroke-width="1.35"/>
<path d="M1814.3,1089.8 A45,45 0 0 1 1769.3,1134.8" fill="none" stroke="#00b100" stroke-width="1.45"/>
<path d="M1935.1,1089.8 A8.9,8.9 0 1 1 1944,1098.7" fill="none" stroke="#f2f2f2" stroke-width="1.35"/>
<path d="M1935.1,1089.8 A8.9,8.9 0 0 0 1944,1098.7" fill="none" stroke="#00b100" stroke-width="1.45"/>
<path d="M1926,1089.8 A18,18 0 1 1 1944,1107.8" fill="none" stroke="#f2f2f2" stroke-width="1.35"/>
<path d="M1926,1089.8 A18,18 0 0 0 1944,1107.8" fill="none" stroke="#00b100" stroke-width="1.45"/>
<path d="M1917,1089.8 A27,27 0 1 1 1944,1116.8" fill="none" stroke="#f2f2f2" stroke-width="1.35"/>
<path d="M1917,1089.8 A27,27 0 0 0 1944,1116.8" fill="none" stroke="#00b100" stroke-width="1.45"/>
<path d="M1908,1089.8 A36,36 0 1 1 1944,1125.8" fill="none" stroke="#f2f2f2" stroke-width="1.35"/>
<path d="M1908,1089.8 A36,36 0 0 0 1944,1125.8" fill="none" stroke="#00b100" stroke-width="1.45"/>
<path d="M1899,1089.8 A45,45 0 1 1 1944,1134.8" fill="none" stroke="#f2f2f2" stroke-width="1.35"/>
<path d="M1899,1089.8 A45,45 0 0 0 1944,1134.8" fill="none" stroke="#00b100" stroke-width="1.45"/>
<path d="M1778.2,1263.7 A8.9,8.9 0 1 1 1769.3,1254.8" fill="none" stroke="#f2f2f2" stroke-width="1.35"/>
<path d="M1778.2,1263.7 A8.9,8.9 0 0 0 1769.3,1254.8" fill="none" stroke="#00b100" stroke-width="1.45"/>
<path d="M1787.3,1263.7 A18,18 0 1 1 1769.3,1245.7" fill="none" stroke="#f2f2f2" stroke-width="1.35"/>
<path d="M1787.3,1263.7 A18,18 0 0 0 1769.3,1245.7" fill="none" stroke="#00b100" stroke-width="1.45"/>
<path d="M1796.3,1263.7 A27,27 0 1 1 1769.3,1236.7" fill="none" stroke="#f2f2f2" stroke-width="1.35"/>
<path d="M1796.3,1263.7 A27,27 0 0 0 1769.3,1236.7" fill="none" stroke="#00b100" stroke-width="1.45"/>
<path d="M1805.3,1263.7 A36,36 0 1 1 1769.3,1227.7" fill="none" stroke="#f2f2f2" stroke-width="1.35"/>
<path d="M1805.3,1263.7 A36,36 0 0 0 1769.3,1227.7" fill="none" stroke="#00b100" stroke-width="1.45"/>
<path d="M1814.3,1263.7 A45,45 0 1 1 1769.3,1218.7" fill="none" stroke="#f2f2f2" stroke-width="1.35"/>
<path d="M1814.3,1263.7 A45,45 0 0 0 1769.3,1218.7" fill="none" stroke="#00b100" stroke-width="1.45"/>
<path d="M1935.1,1263.7 A8.9,8.9 0 1 0 1944,1254.8" fill="none" stroke="#f2f2f2" stroke-width="1.35"/>
<path d="M1935.1,1263.7 A8.9,8.9 0 0 1 1944,1254.8" fill="none" stroke="#00b100" stroke-width="1.45"/>
<path d="M1926,1263.7 A18,18 0 1 0 1944,1245.7" fill="none" stroke="#f2f2f2" stroke-width="1.35"/>
<path d="M1926,1263.7 A18,18 0 0 1 1944,1245.7" fill="none" stroke="#00b100" stroke-width="1.45"/>
<path d="M1917,1263.7 A27,27 0 1 0 1944,1236.7" fill="none" stroke="#f2f2f2" stroke-width="1.35"/>
<path d="M1917,1263.7 A27,27 0 0 1 1944,1236.7" fill="none" stroke="#00b100" stroke-width="1.45"/>
<path d="M1908,1263.7 A36,36 0 1 0 1944,1227.7" fill="none" stroke="#f2f2f2" stroke-width="1.35"/>
<path d="M1908,1263.7 A36,36 0 0 1 1944,1227.7" fill="none" stroke="#00b100" stroke-width="1.45"/>
<path d="M1899,1263.7 A45,45 0 1 0 1944,1218.7" fill="none" stroke="#f2f2f2" stroke-width="1.35"/>
<path d="M1899,1263.7 A45,45 0 0 1 1944,1218.7" fill="none" stroke="#00b100" stroke-width="1.45"/>
<path d="M1819.7,1090.0 L1894.3,1090.0 A37.3,37.3 0 0 1 1819.7,1090.0Z" fill="none" stroke="#fff" stroke-width="1.9" stroke-dasharray="7.4 3.0"/>
<path d="M1819.7,1263.8 L1894.3,1263.8 A37.3,37.3 0 0 0 1819.7,1263.8Z" fill="none" stroke="#fff" stroke-width="1.9" stroke-dasharray="7.4 3.0"/>
<path d="M1769.7,1139.7 L1769.7,1214.3 A37.3,37.3 0 0 0 1769.7,1139.7Z" fill="none" stroke="#fff" stroke-width="1.9" stroke-dasharray="7.4 3.0"/>
<path d="M1944.1,1139.7 L1944.1,1214.3 A37.3,37.3 0 0 1 1944.1,1139.7Z" fill="none" stroke="#fff" stroke-width="1.9" stroke-dasharray="7.4 3.0"/>
<line x1="1854.1" y1="1177" x2="1858.9" y2="1177" stroke="#f0fff0" stroke-width="0.7" />
<line x1="1856.5" y1="1174.6" x2="1856.5" y2="1179.4" stroke="#f0fff0" stroke-width="0.7" />
<!-- inset C -->
<text x="1861" y="1707.1" font-size="25.6" fill="#000" text-anchor="middle" textLength="170.9" lengthAdjust="spacingAndGlyphs" >V1 ROI (illusory</text>
<text x="1861.1" y="1739.7" font-size="25.6" fill="#000" text-anchor="middle" textLength="240.9" lengthAdjust="spacingAndGlyphs" >boundaries in centre)</text>
<rect x="1713.7" y="1750.2" width="286.3" height="285.4" fill="#000"/>
<circle cx="1929.5" cy="1893.3" r="60.9" fill="#00b100"/>
<path d="M1778,1806.2 A8.9,8.9 0 1 0 1769.1,1815.1" fill="none" stroke="#f2f2f2" stroke-width="1.35"/>
<path d="M1778,1806.2 A8.9,8.9 0 0 1 1769.1,1815.1" fill="none" stroke="#00b100" stroke-width="1.45"/>
<path d="M1787.1,1806.2 A18,18 0 1 0 1769.1,1824.2" fill="none" stroke="#f2f2f2" stroke-width="1.35"/>
<path d="M1787.1,1806.2 A18,18 0 0 1 1769.1,1824.2" fill="none" stroke="#00b100" stroke-width="1.45"/>
<path d="M1796.1,1806.2 A27,27 0 1 0 1769.1,1833.2" fill="none" stroke="#f2f2f2" stroke-width="1.35"/>
<path d="M1796.1,1806.2 A27,27 0 0 1 1769.1,1833.2" fill="none" stroke="#00b100" stroke-width="1.45"/>
<path d="M1805.1,1806.2 A36,36 0 1 0 1769.1,1842.2" fill="none" stroke="#f2f2f2" stroke-width="1.35"/>
<path d="M1805.1,1806.2 A36,36 0 0 1 1769.1,1842.2" fill="none" stroke="#00b100" stroke-width="1.45"/>
<path d="M1814.1,1806.2 A45,45 0 1 0 1769.1,1851.2" fill="none" stroke="#f2f2f2" stroke-width="1.35"/>
<path d="M1814.1,1806.2 A45,45 0 0 1 1769.1,1851.2" fill="none" stroke="#00b100" stroke-width="1.45"/>
<path d="M1934.7,1806.2 A8.9,8.9 0 1 1 1943.6,1815.1" fill="none" stroke="#f2f2f2" stroke-width="1.35"/>
<path d="M1934.7,1806.2 A8.9,8.9 0 0 0 1943.6,1815.1" fill="none" stroke="#00b100" stroke-width="1.45"/>
<path d="M1925.6,1806.2 A18,18 0 1 1 1943.6,1824.2" fill="none" stroke="#f2f2f2" stroke-width="1.35"/>
<path d="M1925.6,1806.2 A18,18 0 0 0 1943.6,1824.2" fill="none" stroke="#00b100" stroke-width="1.45"/>
<path d="M1916.6,1806.2 A27,27 0 1 1 1943.6,1833.2" fill="none" stroke="#f2f2f2" stroke-width="1.35"/>
<path d="M1916.6,1806.2 A27,27 0 0 0 1943.6,1833.2" fill="none" stroke="#00b100" stroke-width="1.45"/>
<path d="M1907.6,1806.2 A36,36 0 1 1 1943.6,1842.2" fill="none" stroke="#f2f2f2" stroke-width="1.35"/>
<path d="M1907.6,1806.2 A36,36 0 0 0 1943.6,1842.2" fill="none" stroke="#00b100" stroke-width="1.45"/>
<path d="M1898.6,1806.2 A45,45 0 1 1 1943.6,1851.2" fill="none" stroke="#f2f2f2" stroke-width="1.35"/>
<path d="M1898.6,1806.2 A45,45 0 0 0 1943.6,1851.2" fill="none" stroke="#00b100" stroke-width="1.45"/>
<path d="M1778,1980.1 A8.9,8.9 0 1 1 1769.1,1971.2" fill="none" stroke="#f2f2f2" stroke-width="1.35"/>
<path d="M1778,1980.1 A8.9,8.9 0 0 0 1769.1,1971.2" fill="none" stroke="#00b100" stroke-width="1.45"/>
<path d="M1787.1,1980.1 A18,18 0 1 1 1769.1,1962.1" fill="none" stroke="#f2f2f2" stroke-width="1.35"/>
<path d="M1787.1,1980.1 A18,18 0 0 0 1769.1,1962.1" fill="none" stroke="#00b100" stroke-width="1.45"/>
<path d="M1796.1,1980.1 A27,27 0 1 1 1769.1,1953.1" fill="none" stroke="#f2f2f2" stroke-width="1.35"/>
<path d="M1796.1,1980.1 A27,27 0 0 0 1769.1,1953.1" fill="none" stroke="#00b100" stroke-width="1.45"/>
<path d="M1805.1,1980.1 A36,36 0 1 1 1769.1,1944.1" fill="none" stroke="#f2f2f2" stroke-width="1.35"/>
<path d="M1805.1,1980.1 A36,36 0 0 0 1769.1,1944.1" fill="none" stroke="#00b100" stroke-width="1.45"/>
<path d="M1814.1,1980.1 A45,45 0 1 1 1769.1,1935.1" fill="none" stroke="#f2f2f2" stroke-width="1.35"/>
<path d="M1814.1,1980.1 A45,45 0 0 0 1769.1,1935.1" fill="none" stroke="#00b100" stroke-width="1.45"/>
<path d="M1934.7,1980.1 A8.9,8.9 0 1 0 1943.6,1971.2" fill="none" stroke="#f2f2f2" stroke-width="1.35"/>
<path d="M1934.7,1980.1 A8.9,8.9 0 0 1 1943.6,1971.2" fill="none" stroke="#00b100" stroke-width="1.45"/>
<path d="M1925.6,1980.1 A18,18 0 1 0 1943.6,1962.1" fill="none" stroke="#f2f2f2" stroke-width="1.35"/>
<path d="M1925.6,1980.1 A18,18 0 0 1 1943.6,1962.1" fill="none" stroke="#00b100" stroke-width="1.45"/>
<path d="M1916.6,1980.1 A27,27 0 1 0 1943.6,1953.1" fill="none" stroke="#f2f2f2" stroke-width="1.35"/>
<path d="M1916.6,1980.1 A27,27 0 0 1 1943.6,1953.1" fill="none" stroke="#00b100" stroke-width="1.45"/>
<path d="M1907.6,1980.1 A36,36 0 1 0 1943.6,1944.1" fill="none" stroke="#f2f2f2" stroke-width="1.35"/>
<path d="M1907.6,1980.1 A36,36 0 0 1 1943.6,1944.1" fill="none" stroke="#00b100" stroke-width="1.45"/>
<path d="M1898.6,1980.1 A45,45 0 1 0 1943.6,1935.1" fill="none" stroke="#f2f2f2" stroke-width="1.35"/>
<path d="M1898.6,1980.1 A45,45 0 0 1 1943.6,1935.1" fill="none" stroke="#00b100" stroke-width="1.45"/>
<path d="M1943.6,1858.7 L1943.6,1928.7 A35.0,35.0 0 0 1 1943.6,1858.7Z" fill="none" stroke="#fff" stroke-width="1.9" stroke-dasharray="7.4 3.0"/>
<line x1="1927.1" y1="1893.3" x2="1931.9" y2="1893.3" stroke="#f0fff0" stroke-width="0.7" />
<line x1="1929.5" y1="1890.9" x2="1929.5" y2="1895.7" stroke="#f0fff0" stroke-width="0.7" />
</svg>
</body></html>
